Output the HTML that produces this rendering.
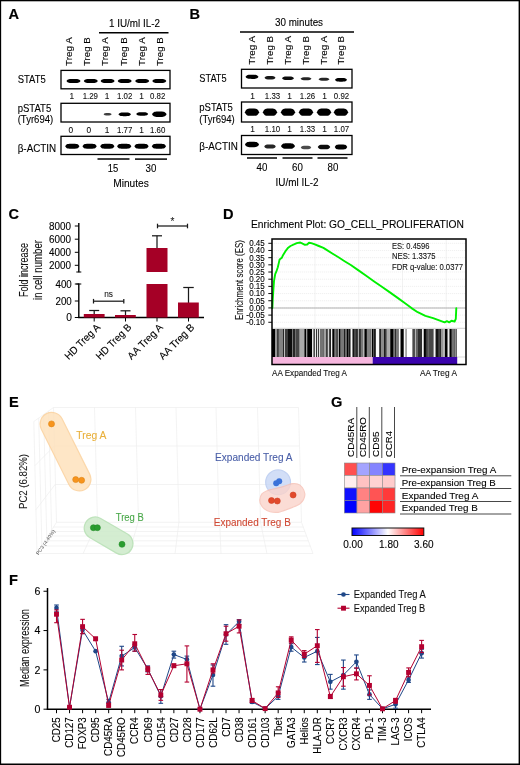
<!DOCTYPE html>
<html lang="en">
<head>
<meta charset="utf-8">
<title>Figure</title>
<style>
html,body{margin:0;padding:0;background:#fff;}
body{width:520px;height:765px;overflow:hidden;}
svg{display:block;font-family:"Liberation Sans", sans-serif;}
text{white-space:pre;}
</style>
</head>
<body>
<svg width="520" height="765" viewBox="0 0 520 765">
<rect x="0" y="0" width="520" height="765" fill="#fff"/>
<defs>
<filter id="b1" x="-30%" y="-80%" width="160%" height="260%"><feGaussianBlur stdDeviation="0.55"/></filter>
<filter id="b2" x="-30%" y="-80%" width="160%" height="260%"><feGaussianBlur stdDeviation="0.9"/></filter>
<filter id="soft" x="-20%" y="-20%" width="140%" height="140%"><feGaussianBlur stdDeviation="0.6"/></filter>
<filter id="blob" filterUnits="userSpaceOnUse" x="0" y="390" width="520" height="190"><feGaussianBlur stdDeviation="0.7"/></filter>
<linearGradient id="cb" x1="0" x2="1" y1="0" y2="0"><stop offset="0" stop-color="#0000ff"/><stop offset="0.5" stop-color="#ffffff"/><stop offset="1" stop-color="#ff0000"/></linearGradient>
</defs>
<text x="8.5" y="19.3" font-size="14.6" text-anchor="start" fill="#000" font-weight="bold" stroke="#000" stroke-width="0.15" >A</text>
<text x="189.5" y="19.3" font-size="14.6" text-anchor="start" fill="#000" font-weight="bold" stroke="#000" stroke-width="0.15" >B</text>
<text x="8.5" y="218.8" font-size="14.6" text-anchor="start" fill="#000" font-weight="bold" stroke="#000" stroke-width="0.15" >C</text>
<text x="223" y="218.8" font-size="14.6" text-anchor="start" fill="#000" font-weight="bold" stroke="#000" stroke-width="0.15" >D</text>
<text x="9" y="407.3" font-size="14.6" text-anchor="start" fill="#000" font-weight="bold" stroke="#000" stroke-width="0.15" >E</text>
<text x="331" y="407.3" font-size="14.6" text-anchor="start" fill="#000" font-weight="bold" stroke="#000" stroke-width="0.15" >G</text>
<text x="9" y="585.3" font-size="14.6" text-anchor="start" fill="#000" font-weight="bold" stroke="#000" stroke-width="0.15" >F</text>
<text x="134.5" y="27.4" font-size="10" text-anchor="middle" fill="#000" stroke="#000" stroke-width="0.1" textLength="51" lengthAdjust="spacingAndGlyphs" >1 IU/ml IL-2</text>
<line x1="99" y1="32.8" x2="168.5" y2="32.8" stroke="#000" stroke-width="1.5" />
<text font-size="9.7" text-anchor="start" fill="#000" stroke="#000" stroke-width="0.1" textLength="28.8" lengthAdjust="spacingAndGlyphs" transform="translate(72.19 66) rotate(-90)" >Treg A</text>
<text font-size="9.7" text-anchor="start" fill="#000" stroke="#000" stroke-width="0.1" textLength="28.8" lengthAdjust="spacingAndGlyphs" transform="translate(89.89 66) rotate(-90)" >Treg B</text>
<text font-size="9.7" text-anchor="start" fill="#000" stroke="#000" stroke-width="0.1" textLength="28.8" lengthAdjust="spacingAndGlyphs" transform="translate(108.29 66) rotate(-90)" >Treg A</text>
<text font-size="9.7" text-anchor="start" fill="#000" stroke="#000" stroke-width="0.1" textLength="28.8" lengthAdjust="spacingAndGlyphs" transform="translate(126.79 66) rotate(-90)" >Treg B</text>
<text font-size="9.7" text-anchor="start" fill="#000" stroke="#000" stroke-width="0.1" textLength="28.8" lengthAdjust="spacingAndGlyphs" transform="translate(145.19 66) rotate(-90)" >Treg A</text>
<text font-size="9.7" text-anchor="start" fill="#000" stroke="#000" stroke-width="0.1" textLength="28.8" lengthAdjust="spacingAndGlyphs" transform="translate(163.29 66) rotate(-90)" >Treg B</text>
<rect x="61" y="70.4" width="109" height="18.39999999999999" fill="#fff" stroke="#000" stroke-width="1.3" />
<rect x="61" y="103.3" width="109" height="18.700000000000003" fill="#fff" stroke="#000" stroke-width="1.3" />
<rect x="61" y="136.3" width="109" height="18.19999999999999" fill="#fff" stroke="#000" stroke-width="1.3" />
<path d="M66.50,81.00 C67.90,78.95 69.30,78.95 73.50,78.95 C77.70,78.95 79.10,78.95 80.50,81.00 C79.10,83.05 77.70,83.05 73.50,83.05 C69.30,83.05 67.90,83.05 66.50,81.00Z" fill="#000" opacity="1.0" filter="url(#b1)"/>
<path d="M83.80,81.00 C85.20,78.95 86.60,78.95 90.80,78.95 C95.00,78.95 96.40,78.95 97.80,81.00 C96.40,83.05 95.00,83.05 90.80,83.05 C86.60,83.05 85.20,83.05 83.80,81.00Z" fill="#000" opacity="1.0" filter="url(#b1)"/>
<path d="M100.60,81.00 C102.00,78.95 103.40,78.95 107.60,78.95 C111.80,78.95 113.20,78.95 114.60,81.00 C113.20,83.05 111.80,83.05 107.60,83.05 C103.40,83.05 102.00,83.05 100.60,81.00Z" fill="#000" opacity="1.0" filter="url(#b1)"/>
<path d="M117.70,81.00 C119.10,78.95 120.50,78.95 124.70,78.95 C128.90,78.95 130.30,78.95 131.70,81.00 C130.30,83.05 128.90,83.05 124.70,83.05 C120.50,83.05 119.10,83.05 117.70,81.00Z" fill="#000" opacity="1.0" filter="url(#b1)"/>
<path d="M135.20,81.00 C136.60,78.95 138.00,78.95 142.20,78.95 C146.40,78.95 147.80,78.95 149.20,81.00 C147.80,83.05 146.40,83.05 142.20,83.05 C138.00,83.05 136.60,83.05 135.20,81.00Z" fill="#000" opacity="1.0" filter="url(#b1)"/>
<path d="M152.30,81.00 C153.70,78.95 155.10,78.95 159.30,78.95 C163.50,78.95 164.90,78.95 166.30,81.00 C164.90,83.05 163.50,83.05 159.30,83.05 C155.10,83.05 153.70,83.05 152.30,81.00Z" fill="#000" opacity="1.0" filter="url(#b1)"/>
<path d="M103.60,114.30 C104.40,113.10 105.20,113.10 107.60,113.10 C110.00,113.10 110.80,113.10 111.60,114.30 C110.80,115.50 110.00,115.50 107.60,115.50 C105.20,115.50 104.40,115.50 103.60,114.30Z" fill="#000" opacity="0.75" filter="url(#b1)"/>
<path d="M118.45,114.30 C119.70,112.40 120.95,112.40 124.70,112.40 C128.45,112.40 129.70,112.40 130.95,114.30 C129.70,116.20 128.45,116.20 124.70,116.20 C120.95,116.20 119.70,116.20 118.45,114.30Z" fill="#000" opacity="1.0" filter="url(#b1)"/>
<path d="M136.20,114.00 C137.40,112.30 138.60,112.30 142.20,112.30 C145.80,112.30 147.00,112.30 148.20,114.00 C147.00,115.70 145.80,115.70 142.20,115.70 C138.60,115.70 137.40,115.70 136.20,114.00Z" fill="#000" opacity="1.0" filter="url(#b1)"/>
<path d="M152.05,114.20 C153.50,111.50 154.95,111.50 159.30,111.50 C163.65,111.50 165.10,111.50 166.55,114.20 C165.10,116.90 163.65,116.90 159.30,116.90 C154.95,116.90 153.50,116.90 152.05,114.20Z" fill="#000" opacity="1.0" filter="url(#b1)"/>
<path d="M65.15,146.30 C66.58,143.80 68.01,143.80 72.30,143.80 C76.59,143.80 78.02,143.80 79.45,146.30 C78.02,148.80 76.59,148.80 72.30,148.80 C68.01,148.80 66.58,148.80 65.15,146.30Z" fill="#000" opacity="1.0" filter="url(#b1)"/>
<path d="M82.45,146.30 C83.88,143.80 85.31,143.80 89.60,143.80 C93.89,143.80 95.32,143.80 96.75,146.30 C95.32,148.80 93.89,148.80 89.60,148.80 C85.31,148.80 83.88,148.80 82.45,146.30Z" fill="#000" opacity="1.0" filter="url(#b1)"/>
<path d="M100.15,146.30 C101.58,143.80 103.01,143.80 107.30,143.80 C111.59,143.80 113.02,143.80 114.45,146.30 C113.02,148.80 111.59,148.80 107.30,148.80 C103.01,148.80 101.58,148.80 100.15,146.30Z" fill="#000" opacity="1.0" filter="url(#b1)"/>
<path d="M117.05,146.30 C118.48,143.80 119.91,143.80 124.20,143.80 C128.49,143.80 129.92,143.80 131.35,146.30 C129.92,148.80 128.49,148.80 124.20,148.80 C119.91,148.80 118.48,148.80 117.05,146.30Z" fill="#000" opacity="1.0" filter="url(#b1)"/>
<path d="M134.35,146.30 C135.78,143.80 137.21,143.80 141.50,143.80 C145.79,143.80 147.22,143.80 148.65,146.30 C147.22,148.80 145.79,148.80 141.50,148.80 C137.21,148.80 135.78,148.80 134.35,146.30Z" fill="#000" opacity="1.0" filter="url(#b1)"/>
<path d="M151.75,146.30 C153.18,143.80 154.61,143.80 158.90,143.80 C163.19,143.80 164.62,143.80 166.05,146.30 C164.62,148.80 163.19,148.80 158.90,148.80 C154.61,148.80 153.18,148.80 151.75,146.30Z" fill="#000" opacity="1.0" filter="url(#b1)"/>
<text x="17.7" y="82.87" font-size="10.2" text-anchor="start" fill="#000" stroke="#000" stroke-width="0.1" textLength="28" lengthAdjust="spacingAndGlyphs" >STAT5</text>
<text x="17.7" y="111.67" font-size="10.2" text-anchor="start" fill="#000" stroke="#000" stroke-width="0.1" textLength="33.5" lengthAdjust="spacingAndGlyphs" >pSTAT5</text>
<text x="17.7" y="122.97" font-size="10.2" text-anchor="start" fill="#000" stroke="#000" stroke-width="0.1" textLength="35.5" lengthAdjust="spacingAndGlyphs" >(Tyr694)</text>
<text x="17.7" y="151.57" font-size="10.2" text-anchor="start" fill="#000" stroke="#000" stroke-width="0.1" textLength="38.5" lengthAdjust="spacingAndGlyphs" >β-ACTIN</text>
<text x="71.8" y="99.19" font-size="8.3" text-anchor="middle" fill="#111" stroke="#111" stroke-width="0.1" >1</text>
<text x="90.3" y="99.19" font-size="8.3" text-anchor="middle" fill="#111" stroke="#111" stroke-width="0.1" textLength="15.3" lengthAdjust="spacingAndGlyphs" >1.29</text>
<text x="107" y="99.19" font-size="8.3" text-anchor="middle" fill="#111" stroke="#111" stroke-width="0.1" >1</text>
<text x="124.7" y="99.19" font-size="8.3" text-anchor="middle" fill="#111" stroke="#111" stroke-width="0.1" textLength="15.3" lengthAdjust="spacingAndGlyphs" >1.02</text>
<text x="141.5" y="99.19" font-size="8.3" text-anchor="middle" fill="#111" stroke="#111" stroke-width="0.1" >1</text>
<text x="157.7" y="99.19" font-size="8.3" text-anchor="middle" fill="#111" stroke="#111" stroke-width="0.1" textLength="15.3" lengthAdjust="spacingAndGlyphs" >0.82</text>
<text x="70.8" y="132.99" font-size="8.3" text-anchor="middle" fill="#111" stroke="#111" stroke-width="0.1" >0</text>
<text x="88.8" y="132.99" font-size="8.3" text-anchor="middle" fill="#111" stroke="#111" stroke-width="0.1" >0</text>
<text x="107" y="132.99" font-size="8.3" text-anchor="middle" fill="#111" stroke="#111" stroke-width="0.1" >1</text>
<text x="124.7" y="132.99" font-size="8.3" text-anchor="middle" fill="#111" stroke="#111" stroke-width="0.1" textLength="15.3" lengthAdjust="spacingAndGlyphs" >1.77</text>
<text x="141.5" y="132.99" font-size="8.3" text-anchor="middle" fill="#111" stroke="#111" stroke-width="0.1" >1</text>
<text x="157.7" y="132.99" font-size="8.3" text-anchor="middle" fill="#111" stroke="#111" stroke-width="0.1" textLength="15.3" lengthAdjust="spacingAndGlyphs" >1.60</text>
<line x1="97.5" y1="159.1" x2="129.5" y2="159.1" stroke="#000" stroke-width="1.5" />
<line x1="135" y1="159.1" x2="167" y2="159.1" stroke="#000" stroke-width="1.5" />
<text x="113" y="171.87" font-size="10.2" text-anchor="middle" fill="#000" stroke="#000" stroke-width="0.1" textLength="10.5" lengthAdjust="spacingAndGlyphs" >15</text>
<text x="151" y="171.87" font-size="10.2" text-anchor="middle" fill="#000" stroke="#000" stroke-width="0.1" textLength="10.8" lengthAdjust="spacingAndGlyphs" >30</text>
<text x="131" y="186.6" font-size="10" text-anchor="middle" fill="#000" stroke="#000" stroke-width="0.1" textLength="35.5" lengthAdjust="spacingAndGlyphs" >Minutes</text>
<text x="299" y="26.1" font-size="10" text-anchor="middle" fill="#000" stroke="#000" stroke-width="0.1" textLength="48" lengthAdjust="spacingAndGlyphs" >30 minutes</text>
<line x1="240" y1="32" x2="354" y2="32" stroke="#000" stroke-width="1.5" />
<text font-size="9.7" text-anchor="start" fill="#000" stroke="#000" stroke-width="0.1" textLength="28.8" lengthAdjust="spacingAndGlyphs" transform="translate(255.29 64.7) rotate(-90)" >Treg A</text>
<text font-size="9.7" text-anchor="start" fill="#000" stroke="#000" stroke-width="0.1" textLength="28.8" lengthAdjust="spacingAndGlyphs" transform="translate(272.99 64.7) rotate(-90)" >Treg B</text>
<text font-size="9.7" text-anchor="start" fill="#000" stroke="#000" stroke-width="0.1" textLength="28.8" lengthAdjust="spacingAndGlyphs" transform="translate(291.49 64.7) rotate(-90)" >Treg A</text>
<text font-size="9.7" text-anchor="start" fill="#000" stroke="#000" stroke-width="0.1" textLength="28.8" lengthAdjust="spacingAndGlyphs" transform="translate(308.99 64.7) rotate(-90)" >Treg B</text>
<text font-size="9.7" text-anchor="start" fill="#000" stroke="#000" stroke-width="0.1" textLength="28.8" lengthAdjust="spacingAndGlyphs" transform="translate(326.99 64.7) rotate(-90)" >Treg A</text>
<text font-size="9.7" text-anchor="start" fill="#000" stroke="#000" stroke-width="0.1" textLength="28.8" lengthAdjust="spacingAndGlyphs" transform="translate(344.29 64.7) rotate(-90)" >Treg B</text>
<rect x="241.5" y="69.3" width="110.5" height="18.700000000000003" fill="#fff" stroke="#000" stroke-width="1.3" />
<rect x="241.5" y="102" width="110.5" height="20" fill="#fff" stroke="#000" stroke-width="1.3" />
<rect x="241.5" y="135.5" width="110.5" height="19.0" fill="#fff" stroke="#000" stroke-width="1.3" />
<path d="M245.50,76.80 C246.80,74.70 248.10,74.70 252.00,74.70 C255.90,74.70 257.20,74.70 258.50,76.80 C257.20,78.90 255.90,78.90 252.00,78.90 C248.10,78.90 246.80,78.90 245.50,76.80Z" fill="#000" opacity="1" filter="url(#b1)"/>
<path d="M264.50,77.80 C265.60,76.10 266.70,76.10 270.00,76.10 C273.30,76.10 274.40,76.10 275.50,77.80 C274.40,79.50 273.30,79.50 270.00,79.50 C266.70,79.50 265.60,79.50 264.50,77.80Z" fill="#000" opacity="0.9" filter="url(#b1)"/>
<path d="M282.00,78.30 C283.20,76.50 284.40,76.50 288.00,76.50 C291.60,76.50 292.80,76.50 294.00,78.30 C292.80,80.10 291.60,80.10 288.00,80.10 C284.40,80.10 283.20,80.10 282.00,78.30Z" fill="#000" opacity="0.95" filter="url(#b1)"/>
<path d="M300.50,78.80 C301.60,77.30 302.70,77.30 306.00,77.30 C309.30,77.30 310.40,77.30 311.50,78.80 C310.40,80.30 309.30,80.30 306.00,80.30 C302.70,80.30 301.60,80.30 300.50,78.80Z" fill="#000" opacity="0.85" filter="url(#b1)"/>
<path d="M318.50,79.30 C319.60,77.80 320.70,77.80 324.00,77.80 C327.30,77.80 328.40,77.80 329.50,79.30 C328.40,80.80 327.30,80.80 324.00,80.80 C320.70,80.80 319.60,80.80 318.50,79.30Z" fill="#000" opacity="0.85" filter="url(#b1)"/>
<path d="M335.00,79.80 C336.20,77.90 337.40,77.90 341.00,77.90 C344.60,77.90 345.80,77.90 347.00,79.80 C345.80,81.70 344.60,81.70 341.00,81.70 C337.40,81.70 336.20,81.70 335.00,79.80Z" fill="#000" opacity="1" filter="url(#b1)"/>
<path d="M244.90,112.20 C246.32,108.60 247.74,108.60 252.00,108.60 C256.26,108.60 257.68,108.60 259.10,112.20 C257.68,115.80 256.26,115.80 252.00,115.80 C247.74,115.80 246.32,115.80 244.90,112.20Z" fill="#000" opacity="1" filter="url(#b1)"/>
<path d="M262.90,112.20 C264.32,108.60 265.74,108.60 270.00,108.60 C274.26,108.60 275.68,108.60 277.10,112.20 C275.68,115.80 274.26,115.80 270.00,115.80 C265.74,115.80 264.32,115.80 262.90,112.20Z" fill="#000" opacity="1" filter="url(#b1)"/>
<path d="M280.90,112.20 C282.32,108.60 283.74,108.60 288.00,108.60 C292.26,108.60 293.68,108.60 295.10,112.20 C293.68,115.80 292.26,115.80 288.00,115.80 C283.74,115.80 282.32,115.80 280.90,112.20Z" fill="#000" opacity="1" filter="url(#b1)"/>
<path d="M298.90,112.20 C300.32,108.60 301.74,108.60 306.00,108.60 C310.26,108.60 311.68,108.60 313.10,112.20 C311.68,115.80 310.26,115.80 306.00,115.80 C301.74,115.80 300.32,115.80 298.90,112.20Z" fill="#000" opacity="1" filter="url(#b1)"/>
<path d="M316.90,112.20 C318.32,108.60 319.74,108.60 324.00,108.60 C328.26,108.60 329.68,108.60 331.10,112.20 C329.68,115.80 328.26,115.80 324.00,115.80 C319.74,115.80 318.32,115.80 316.90,112.20Z" fill="#000" opacity="1" filter="url(#b1)"/>
<path d="M333.90,112.20 C335.32,108.60 336.74,108.60 341.00,108.60 C345.26,108.60 346.68,108.60 348.10,112.20 C346.68,115.80 345.26,115.80 341.00,115.80 C336.74,115.80 335.32,115.80 333.90,112.20Z" fill="#000" opacity="1" filter="url(#b1)"/>
<path d="M245.00,144.50 C246.40,141.80 247.80,141.80 252.00,141.80 C256.20,141.80 257.60,141.80 259.00,144.50 C257.60,147.20 256.20,147.20 252.00,147.20 C247.80,147.20 246.40,147.20 245.00,144.50Z" fill="#000" opacity="1" filter="url(#b1)"/>
<path d="M264.25,146.50 C265.40,144.50 266.55,144.50 270.00,144.50 C273.45,144.50 274.60,144.50 275.75,146.50 C274.60,148.50 273.45,148.50 270.00,148.50 C266.55,148.50 265.40,148.50 264.25,146.50Z" fill="#000" opacity="0.85" filter="url(#b1)"/>
<path d="M281.00,146.00 C282.40,143.20 283.80,143.20 288.00,143.20 C292.20,143.20 293.60,143.20 295.00,146.00 C293.60,148.80 292.20,148.80 288.00,148.80 C283.80,148.80 282.40,148.80 281.00,146.00Z" fill="#000" opacity="1" filter="url(#b1)"/>
<path d="M300.75,147.50 C301.80,145.80 302.85,145.80 306.00,145.80 C309.15,145.80 310.20,145.80 311.25,147.50 C310.20,149.20 309.15,149.20 306.00,149.20 C302.85,149.20 301.80,149.20 300.75,147.50Z" fill="#000" opacity="0.7" filter="url(#b1)"/>
<path d="M317.75,147.00 C319.00,144.70 320.25,144.70 324.00,144.70 C327.75,144.70 329.00,144.70 330.25,147.00 C329.00,149.30 327.75,149.30 324.00,149.30 C320.25,149.30 319.00,149.30 317.75,147.00Z" fill="#000" opacity="0.95" filter="url(#b1)"/>
<path d="M334.75,147.00 C336.00,144.50 337.25,144.50 341.00,144.50 C344.75,144.50 346.00,144.50 347.25,147.00 C346.00,149.50 344.75,149.50 341.00,149.50 C337.25,149.50 336.00,149.50 334.75,147.00Z" fill="#000" opacity="1" filter="url(#b1)"/>
<text x="199.3" y="81.87" font-size="10.2" text-anchor="start" fill="#000" stroke="#000" stroke-width="0.1" textLength="27.3" lengthAdjust="spacingAndGlyphs" >STAT5</text>
<text x="199.3" y="110.87" font-size="10.2" text-anchor="start" fill="#000" stroke="#000" stroke-width="0.1" textLength="33.5" lengthAdjust="spacingAndGlyphs" >pSTAT5</text>
<text x="199.3" y="122.67" font-size="10.2" text-anchor="start" fill="#000" stroke="#000" stroke-width="0.1" textLength="35.5" lengthAdjust="spacingAndGlyphs" >(Tyr694)</text>
<text x="199.3" y="150.27" font-size="10.2" text-anchor="start" fill="#000" stroke="#000" stroke-width="0.1" textLength="38.5" lengthAdjust="spacingAndGlyphs" >β-ACTIN</text>
<text x="252.5" y="98.59" font-size="8.3" text-anchor="middle" fill="#111" stroke="#111" stroke-width="0.1" >1</text>
<text x="272.5" y="98.59" font-size="8.3" text-anchor="middle" fill="#111" stroke="#111" stroke-width="0.1" textLength="15.3" lengthAdjust="spacingAndGlyphs" >1.33</text>
<text x="289.5" y="98.59" font-size="8.3" text-anchor="middle" fill="#111" stroke="#111" stroke-width="0.1" >1</text>
<text x="307.5" y="98.59" font-size="8.3" text-anchor="middle" fill="#111" stroke="#111" stroke-width="0.1" textLength="15.3" lengthAdjust="spacingAndGlyphs" >1.26</text>
<text x="324.5" y="98.59" font-size="8.3" text-anchor="middle" fill="#111" stroke="#111" stroke-width="0.1" >1</text>
<text x="341.5" y="98.59" font-size="8.3" text-anchor="middle" fill="#111" stroke="#111" stroke-width="0.1" textLength="15.3" lengthAdjust="spacingAndGlyphs" >0.92</text>
<text x="252.5" y="132.49" font-size="8.3" text-anchor="middle" fill="#111" stroke="#111" stroke-width="0.1" >1</text>
<text x="272.5" y="132.49" font-size="8.3" text-anchor="middle" fill="#111" stroke="#111" stroke-width="0.1" textLength="15.3" lengthAdjust="spacingAndGlyphs" >1.10</text>
<text x="289.5" y="132.49" font-size="8.3" text-anchor="middle" fill="#111" stroke="#111" stroke-width="0.1" >1</text>
<text x="307.5" y="132.49" font-size="8.3" text-anchor="middle" fill="#111" stroke="#111" stroke-width="0.1" textLength="15.3" lengthAdjust="spacingAndGlyphs" >1.33</text>
<text x="324.5" y="132.49" font-size="8.3" text-anchor="middle" fill="#111" stroke="#111" stroke-width="0.1" >1</text>
<text x="341.5" y="132.49" font-size="8.3" text-anchor="middle" fill="#111" stroke="#111" stroke-width="0.1" textLength="15.3" lengthAdjust="spacingAndGlyphs" >1.07</text>
<line x1="247" y1="158" x2="277" y2="158" stroke="#000" stroke-width="1.5" />
<line x1="282.5" y1="158" x2="312.5" y2="158" stroke="#000" stroke-width="1.5" />
<line x1="317.5" y1="158" x2="347.5" y2="158" stroke="#000" stroke-width="1.5" />
<text x="262" y="171.17" font-size="10.2" text-anchor="middle" fill="#000" stroke="#000" stroke-width="0.1" textLength="10.8" lengthAdjust="spacingAndGlyphs" >40</text>
<text x="297.5" y="171.17" font-size="10.2" text-anchor="middle" fill="#000" stroke="#000" stroke-width="0.1" textLength="10.8" lengthAdjust="spacingAndGlyphs" >60</text>
<text x="333" y="171.17" font-size="10.2" text-anchor="middle" fill="#000" stroke="#000" stroke-width="0.1" textLength="10.8" lengthAdjust="spacingAndGlyphs" >80</text>
<text x="297" y="185.6" font-size="10" text-anchor="middle" fill="#000" stroke="#000" stroke-width="0.1" textLength="43" lengthAdjust="spacingAndGlyphs" >IU/ml IL-2</text>
<line x1="78.8" y1="223" x2="78.8" y2="272.3" stroke="#000" stroke-width="1.4" />
<line x1="74.8" y1="226" x2="78.8" y2="226" stroke="#000" stroke-width="1" />
<text x="71" y="229.97" font-size="10.2" text-anchor="end" fill="#000" stroke="#000" stroke-width="0.1" textLength="22" lengthAdjust="spacingAndGlyphs" >8000</text>
<line x1="74.8" y1="239.2" x2="78.8" y2="239.2" stroke="#000" stroke-width="1" />
<text x="71" y="243.17" font-size="10.2" text-anchor="end" fill="#000" stroke="#000" stroke-width="0.1" textLength="22" lengthAdjust="spacingAndGlyphs" >6000</text>
<line x1="74.8" y1="252.3" x2="78.8" y2="252.3" stroke="#000" stroke-width="1" />
<text x="71" y="256.27" font-size="10.2" text-anchor="end" fill="#000" stroke="#000" stroke-width="0.1" textLength="22" lengthAdjust="spacingAndGlyphs" >4000</text>
<line x1="74.8" y1="265.3" x2="78.8" y2="265.3" stroke="#000" stroke-width="1" />
<text x="71" y="269.27" font-size="10.2" text-anchor="end" fill="#000" stroke="#000" stroke-width="0.1" textLength="22" lengthAdjust="spacingAndGlyphs" >2000</text>
<line x1="76.3" y1="272" x2="81.3" y2="272" stroke="#000" stroke-width="1" />
<line x1="76.3" y1="284" x2="81.3" y2="284" stroke="#000" stroke-width="1" />
<line x1="78.8" y1="283.5" x2="78.8" y2="318" stroke="#000" stroke-width="1.4" />
<line x1="74.8" y1="284" x2="78.8" y2="284" stroke="#000" stroke-width="1" />
<text x="71.8" y="287.67" font-size="10.2" text-anchor="end" fill="#000" stroke="#000" stroke-width="0.1" textLength="16.3" lengthAdjust="spacingAndGlyphs" >400</text>
<line x1="74.8" y1="301" x2="78.8" y2="301" stroke="#000" stroke-width="1" />
<text x="71.8" y="304.67" font-size="10.2" text-anchor="end" fill="#000" stroke="#000" stroke-width="0.1" textLength="16.3" lengthAdjust="spacingAndGlyphs" >200</text>
<line x1="74.8" y1="317.5" x2="78.8" y2="317.5" stroke="#000" stroke-width="1" />
<text x="71.8" y="321.17" font-size="10.2" text-anchor="end" fill="#000" stroke="#000" stroke-width="0.1" >0</text>
<line x1="78.1" y1="317.5" x2="204" y2="317.5" stroke="#000" stroke-width="1.5" />
<line x1="94.2" y1="310.5" x2="94.2" y2="315" stroke="#1a1a1a" stroke-width="1.25" />
<line x1="89.2" y1="310.5" x2="99.2" y2="310.5" stroke="#1a1a1a" stroke-width="1.25" />
<line x1="125.5" y1="310.8" x2="125.5" y2="315.5" stroke="#1a1a1a" stroke-width="1.25" />
<line x1="120.5" y1="310.8" x2="130.5" y2="310.8" stroke="#1a1a1a" stroke-width="1.25" />
<line x1="157" y1="235.8" x2="157" y2="249" stroke="#1a1a1a" stroke-width="1.25" />
<line x1="152.0" y1="235.8" x2="162.0" y2="235.8" stroke="#1a1a1a" stroke-width="1.25" />
<line x1="188.5" y1="287.5" x2="188.5" y2="303" stroke="#1a1a1a" stroke-width="1.25" />
<line x1="183.25" y1="287.5" x2="193.75" y2="287.5" stroke="#1a1a1a" stroke-width="1.25" />
<rect x="83.8" y="314" width="20.8" height="3.5" fill="#a50026" />
<rect x="115" y="315" width="20.8" height="2.5" fill="#a50026" />
<rect x="146.5" y="284" width="21" height="33.5" fill="#a50026" />
<rect x="146.5" y="248" width="21" height="24" fill="#a50026" />
<rect x="178" y="302.5" width="20.8" height="15" fill="#a50026" />
<line x1="94.2" y1="318" x2="94.2" y2="321.5" stroke="#000" stroke-width="1" />
<line x1="125.5" y1="318" x2="125.5" y2="321.5" stroke="#000" stroke-width="1" />
<line x1="157" y1="318" x2="157" y2="321.5" stroke="#000" stroke-width="1" />
<line x1="188.5" y1="318" x2="188.5" y2="321.5" stroke="#000" stroke-width="1" />
<line x1="93.5" y1="301.2" x2="123.8" y2="301.2" stroke="#1a1a1a" stroke-width="1.25" />
<line x1="93.5" y1="298.9" x2="93.5" y2="303.5" stroke="#1a1a1a" stroke-width="1.25" />
<line x1="123.8" y1="298.9" x2="123.8" y2="303.5" stroke="#1a1a1a" stroke-width="1.25" />
<text x="108.65" y="297.0" font-size="8.8" text-anchor="middle" fill="#1a1a1a" stroke="#1a1a1a" stroke-width="0.1" textLength="8.74" lengthAdjust="spacingAndGlyphs" >ns</text>
<line x1="157.5" y1="226" x2="187.5" y2="226" stroke="#1a1a1a" stroke-width="1.25" />
<line x1="157.5" y1="223.7" x2="157.5" y2="228.3" stroke="#1a1a1a" stroke-width="1.25" />
<line x1="187.5" y1="223.7" x2="187.5" y2="228.3" stroke="#1a1a1a" stroke-width="1.25" />
<text x="172.5" y="225.4" font-size="10" text-anchor="middle" fill="#1a1a1a" stroke="#1a1a1a" stroke-width="0.1" >*</text>
<text font-size="10.3" text-anchor="end" fill="#000" stroke="#000" stroke-width="0.1" textLength="45.5" lengthAdjust="spacingAndGlyphs" transform="translate(100.8 328) rotate(-45)" >HD Treg A</text>
<text font-size="10.3" text-anchor="end" fill="#000" stroke="#000" stroke-width="0.1" textLength="45.5" lengthAdjust="spacingAndGlyphs" transform="translate(132.1 328) rotate(-45)" >HD Treg B</text>
<text font-size="10.3" text-anchor="end" fill="#000" stroke="#000" stroke-width="0.1" textLength="45.5" lengthAdjust="spacingAndGlyphs" transform="translate(163.6 328) rotate(-45)" >AA Treg A</text>
<text font-size="10.3" text-anchor="end" fill="#000" stroke="#000" stroke-width="0.1" textLength="45.5" lengthAdjust="spacingAndGlyphs" transform="translate(195.1 328) rotate(-45)" >AA Treg B</text>
<text font-size="12.5" text-anchor="middle" fill="#111" stroke="#111" stroke-width="0.1" textLength="54" lengthAdjust="spacingAndGlyphs" transform="translate(27.7 270) rotate(-90)" >Fold increase</text>
<text font-size="12.5" text-anchor="middle" fill="#111" stroke="#111" stroke-width="0.1" textLength="60" lengthAdjust="spacingAndGlyphs" transform="translate(42.3 270) rotate(-90)" >in cell number</text>
<text x="357.5" y="228.19" font-size="10.8" text-anchor="middle" fill="#000" stroke="#000" stroke-width="0.1" textLength="213" lengthAdjust="spacingAndGlyphs" >Enrichment Plot: GO_CELL_PROLIFERATION</text>
<line x1="315" y1="239" x2="315" y2="328" stroke="#e9e9e9" stroke-width="0.6" />
<line x1="358.75" y1="239" x2="358.75" y2="328" stroke="#e9e9e9" stroke-width="0.6" />
<line x1="402.5" y1="239" x2="402.5" y2="328" stroke="#e9e9e9" stroke-width="0.6" />
<line x1="446.25" y1="239" x2="446.25" y2="328" stroke="#e9e9e9" stroke-width="0.6" />
<line x1="272" y1="243.3" x2="466" y2="243.3" stroke="#e6e6e6" stroke-width="0.6" stroke-dasharray="1.2 0.8"/>
<line x1="272" y1="250.48000000000002" x2="466" y2="250.48000000000002" stroke="#e6e6e6" stroke-width="0.6" stroke-dasharray="1.2 0.8"/>
<line x1="272" y1="257.66" x2="466" y2="257.66" stroke="#e6e6e6" stroke-width="0.6" stroke-dasharray="1.2 0.8"/>
<line x1="272" y1="264.84000000000003" x2="466" y2="264.84000000000003" stroke="#e6e6e6" stroke-width="0.6" stroke-dasharray="1.2 0.8"/>
<line x1="272" y1="272.02" x2="466" y2="272.02" stroke="#e6e6e6" stroke-width="0.6" stroke-dasharray="1.2 0.8"/>
<line x1="272" y1="279.2" x2="466" y2="279.2" stroke="#e6e6e6" stroke-width="0.6" stroke-dasharray="1.2 0.8"/>
<line x1="272" y1="286.38" x2="466" y2="286.38" stroke="#e6e6e6" stroke-width="0.6" stroke-dasharray="1.2 0.8"/>
<line x1="272" y1="293.56" x2="466" y2="293.56" stroke="#e6e6e6" stroke-width="0.6" stroke-dasharray="1.2 0.8"/>
<line x1="272" y1="300.74" x2="466" y2="300.74" stroke="#e6e6e6" stroke-width="0.6" stroke-dasharray="1.2 0.8"/>
<line x1="272" y1="307.92" x2="466" y2="307.92" stroke="#e6e6e6" stroke-width="0.6" stroke-dasharray="1.2 0.8"/>
<line x1="272" y1="315.1" x2="466" y2="315.1" stroke="#e6e6e6" stroke-width="0.6" stroke-dasharray="1.2 0.8"/>
<line x1="272" y1="322.28" x2="466" y2="322.28" stroke="#e6e6e6" stroke-width="0.6" stroke-dasharray="1.2 0.8"/>
<line x1="272" y1="308" x2="466" y2="308" stroke="#b0b0b0" stroke-width="1" />
<line x1="268.3" y1="243.3" x2="272" y2="243.3" stroke="#111" stroke-width="1" />
<text x="264.8" y="246.14" font-size="9" text-anchor="end" fill="#000" stroke="#000" stroke-width="0.1" textLength="15.6" lengthAdjust="spacingAndGlyphs" >0.45</text>
<line x1="268.3" y1="250.48000000000002" x2="272" y2="250.48000000000002" stroke="#111" stroke-width="1" />
<text x="264.8" y="253.32" font-size="9" text-anchor="end" fill="#000" stroke="#000" stroke-width="0.1" textLength="15.6" lengthAdjust="spacingAndGlyphs" >0.40</text>
<line x1="268.3" y1="257.66" x2="272" y2="257.66" stroke="#111" stroke-width="1" />
<text x="264.8" y="260.5" font-size="9" text-anchor="end" fill="#000" stroke="#000" stroke-width="0.1" textLength="15.6" lengthAdjust="spacingAndGlyphs" >0.35</text>
<line x1="268.3" y1="264.84000000000003" x2="272" y2="264.84000000000003" stroke="#111" stroke-width="1" />
<text x="264.8" y="267.68" font-size="9" text-anchor="end" fill="#000" stroke="#000" stroke-width="0.1" textLength="15.6" lengthAdjust="spacingAndGlyphs" >0.30</text>
<line x1="268.3" y1="272.02" x2="272" y2="272.02" stroke="#111" stroke-width="1" />
<text x="264.8" y="274.86" font-size="9" text-anchor="end" fill="#000" stroke="#000" stroke-width="0.1" textLength="15.6" lengthAdjust="spacingAndGlyphs" >0.25</text>
<line x1="268.3" y1="279.2" x2="272" y2="279.2" stroke="#111" stroke-width="1" />
<text x="264.8" y="282.04" font-size="9" text-anchor="end" fill="#000" stroke="#000" stroke-width="0.1" textLength="15.6" lengthAdjust="spacingAndGlyphs" >0.20</text>
<line x1="268.3" y1="286.38" x2="272" y2="286.38" stroke="#111" stroke-width="1" />
<text x="264.8" y="289.22" font-size="9" text-anchor="end" fill="#000" stroke="#000" stroke-width="0.1" textLength="15.6" lengthAdjust="spacingAndGlyphs" >0.15</text>
<line x1="268.3" y1="293.56" x2="272" y2="293.56" stroke="#111" stroke-width="1" />
<text x="264.8" y="296.4" font-size="9" text-anchor="end" fill="#000" stroke="#000" stroke-width="0.1" textLength="15.6" lengthAdjust="spacingAndGlyphs" >0.10</text>
<line x1="268.3" y1="300.74" x2="272" y2="300.74" stroke="#111" stroke-width="1" />
<text x="264.8" y="303.58" font-size="9" text-anchor="end" fill="#000" stroke="#000" stroke-width="0.1" textLength="15.6" lengthAdjust="spacingAndGlyphs" >0.05</text>
<line x1="268.3" y1="307.92" x2="272" y2="307.92" stroke="#111" stroke-width="1" />
<text x="264.8" y="310.76" font-size="9" text-anchor="end" fill="#000" stroke="#000" stroke-width="0.1" textLength="15.6" lengthAdjust="spacingAndGlyphs" >0.00</text>
<line x1="268.3" y1="315.1" x2="272" y2="315.1" stroke="#111" stroke-width="1" />
<text x="264.8" y="317.94" font-size="9" text-anchor="end" fill="#000" stroke="#000" stroke-width="0.1" textLength="18.5" lengthAdjust="spacingAndGlyphs" >-0.05</text>
<line x1="268.3" y1="322.28" x2="272" y2="322.28" stroke="#111" stroke-width="1" />
<text x="264.8" y="325.12" font-size="9" text-anchor="end" fill="#000" stroke="#000" stroke-width="0.1" textLength="18.5" lengthAdjust="spacingAndGlyphs" >-0.10</text>
<text font-size="10.5" text-anchor="middle" fill="#111" stroke="#111" stroke-width="0.1" textLength="80" lengthAdjust="spacingAndGlyphs" transform="translate(243.28 280) rotate(-90)" >Enrichment score (ES)</text>
<rect x="272" y="328.5" width="185" height="28.5" fill="#000" />
<g filter="url(#soft)">
<rect x="275.0" y="328.5" width="2.0" height="28.5" fill="rgb(150,150,150)" />
<rect x="277.0" y="328.5" width="1.5" height="28.5" fill="rgb(60,60,60)" />
<rect x="278.5" y="328.5" width="4.5" height="28.5" fill="rgb(130,130,130)" />
<rect x="283.0" y="328.5" width="1.0" height="28.5" fill="rgb(40,40,40)" />
<rect x="284.0" y="328.5" width="1.0" height="28.5" fill="rgb(190,190,190)" />
<rect x="285.0" y="328.5" width="3.0" height="28.5" fill="rgb(60,60,60)" />
<rect x="288.0" y="328.5" width="4.0" height="28.5" fill="rgb(8,8,8)" />
<rect x="292.0" y="328.5" width="1.0" height="28.5" fill="rgb(120,120,120)" />
<rect x="293.0" y="328.5" width="2.0" height="28.5" fill="rgb(40,40,40)" />
<rect x="295.0" y="328.5" width="1.0" height="28.5" fill="rgb(110,110,110)" />
<rect x="296.0" y="328.5" width="3.0" height="28.5" fill="rgb(70,70,70)" />
<rect x="299.0" y="328.5" width="1.0" height="28.5" fill="rgb(140,140,140)" />
<rect x="300.0" y="328.5" width="4.5" height="28.5" fill="rgb(170,170,170)" />
<rect x="306.25" y="328.5" width="1.0" height="28.5" fill="rgb(200,200,200)" />
<rect x="312.0" y="328.5" width="1.75" height="28.5" fill="rgb(230,230,230)" />
<rect x="313.75" y="328.5" width="1.0" height="28.5" fill="rgb(30,30,30)" />
<rect x="314.75" y="328.5" width="1.25" height="28.5" fill="rgb(235,235,235)" />
<rect x="316.0" y="328.5" width="1.0" height="28.5" fill="rgb(50,50,50)" />
<rect x="317.0" y="328.5" width="1.0" height="28.5" fill="rgb(220,220,220)" />
<rect x="318.0" y="328.5" width="1.0" height="28.5" fill="rgb(60,60,60)" />
<rect x="319.0" y="328.5" width="1.0" height="28.5" fill="rgb(220,220,220)" />
<rect x="320.0" y="328.5" width="3.75" height="28.5" fill="rgb(115,115,115)" />
<rect x="323.75" y="328.5" width="2.5" height="28.5" fill="rgb(160,160,160)" />
<rect x="326.25" y="328.5" width="1.5" height="28.5" fill="rgb(70,70,70)" />
<rect x="327.75" y="328.5" width="1.75" height="28.5" fill="rgb(210,210,210)" />
<rect x="329.5" y="328.5" width="1.5" height="28.5" fill="rgb(40,40,40)" />
<rect x="331.0" y="328.5" width="1.5" height="28.5" fill="rgb(245,245,245)" />
<rect x="332.5" y="328.5" width="0.5" height="28.5" fill="rgb(30,30,30)" />
<rect x="334.25" y="328.5" width="2.5" height="28.5" fill="rgb(120,120,120)" />
<rect x="336.75" y="328.5" width="1.0" height="28.5" fill="rgb(60,60,60)" />
<rect x="337.75" y="328.5" width="1.25" height="28.5" fill="rgb(170,170,170)" />
<rect x="340.25" y="328.5" width="4.0" height="28.5" fill="rgb(120,120,120)" />
<rect x="344.25" y="328.5" width="1.25" height="28.5" fill="rgb(30,30,30)" />
<rect x="345.5" y="328.5" width="1.0" height="28.5" fill="rgb(200,200,200)" />
<rect x="348.25" y="328.5" width="1.0" height="28.5" fill="rgb(100,100,100)" />
<rect x="349.25" y="328.5" width="1.25" height="28.5" fill="rgb(30,30,30)" />
<rect x="350.5" y="328.5" width="2.0" height="28.5" fill="rgb(250,250,250)" />
<rect x="353.75" y="328.5" width="3.0" height="28.5" fill="rgb(70,70,70)" />
<rect x="356.75" y="328.5" width="1.0" height="28.5" fill="rgb(30,30,30)" />
<rect x="357.75" y="328.5" width="1.5" height="28.5" fill="rgb(170,170,170)" />
<rect x="359.25" y="328.5" width="1.5" height="28.5" fill="rgb(50,50,50)" />
<rect x="360.75" y="328.5" width="1.75" height="28.5" fill="rgb(120,120,120)" />
<rect x="362.5" y="328.5" width="2.0" height="28.5" fill="rgb(180,180,180)" />
<rect x="366.75" y="328.5" width="3.75" height="28.5" fill="rgb(130,130,130)" />
<rect x="370.5" y="328.5" width="1.5" height="28.5" fill="rgb(170,170,170)" />
<rect x="373.25" y="328.5" width="1.0" height="28.5" fill="rgb(110,110,110)" />
<rect x="375.75" y="328.5" width="3.75" height="28.5" fill="rgb(250,250,250)" />
<rect x="379.5" y="328.5" width="1.5" height="28.5" fill="rgb(40,40,40)" />
<rect x="381.0" y="328.5" width="3.0" height="28.5" fill="rgb(140,140,140)" />
<rect x="384.0" y="328.5" width="1.5" height="28.5" fill="rgb(30,30,30)" />
<rect x="385.5" y="328.5" width="1.5" height="28.5" fill="rgb(110,110,110)" />
<rect x="387.0" y="328.5" width="2.25" height="28.5" fill="rgb(170,170,170)" />
<rect x="389.25" y="328.5" width="1.0" height="28.5" fill="rgb(220,220,220)" />
<rect x="393.25" y="328.5" width="2.25" height="28.5" fill="rgb(120,120,120)" />
<rect x="395.5" y="328.5" width="0.5" height="28.5" fill="rgb(30,30,30)" />
<rect x="396.0" y="328.5" width="2.75" height="28.5" fill="rgb(120,120,120)" />
<rect x="398.75" y="328.5" width="1.75" height="28.5" fill="rgb(250,250,250)" />
<rect x="403.0" y="328.5" width="1.0" height="28.5" fill="rgb(70,70,70)" />
<rect x="404.0" y="328.5" width="1.75" height="28.5" fill="rgb(250,250,250)" />
<rect x="405.75" y="328.5" width="0.75" height="28.5" fill="rgb(150,150,150)" />
<rect x="406.5" y="328.5" width="5.5" height="28.5" fill="rgb(255,255,255)" />
<rect x="412.0" y="328.5" width="1.5" height="28.5" fill="rgb(140,140,140)" />
<rect x="413.5" y="328.5" width="1.5" height="28.5" fill="rgb(80,80,80)" />
<rect x="415.0" y="328.5" width="1.0" height="28.5" fill="rgb(180,180,180)" />
<rect x="416.0" y="328.5" width="2.0" height="28.5" fill="rgb(100,100,100)" />
<rect x="418.0" y="328.5" width="4.0" height="28.5" fill="rgb(45,45,45)" />
<rect x="422.0" y="328.5" width="1.75" height="28.5" fill="rgb(240,240,240)" />
<rect x="425.75" y="328.5" width="1.5" height="28.5" fill="rgb(60,60,60)" />
<rect x="427.25" y="328.5" width="2.5" height="28.5" fill="rgb(100,100,100)" />
<rect x="429.75" y="328.5" width="3.75" height="28.5" fill="rgb(70,70,70)" />
<rect x="433.5" y="328.5" width="2.25" height="28.5" fill="rgb(245,245,245)" />
<rect x="435.75" y="328.5" width="2.75" height="28.5" fill="rgb(25,25,25)" />
<rect x="438.5" y="328.5" width="1.25" height="28.5" fill="rgb(100,100,100)" />
<rect x="439.75" y="328.5" width="1.25" height="28.5" fill="rgb(40,40,40)" />
<rect x="441.0" y="328.5" width="2.25" height="28.5" fill="rgb(150,150,150)" />
<rect x="443.25" y="328.5" width="1.5" height="28.5" fill="rgb(230,230,230)" />
<rect x="447.5" y="328.5" width="2.0" height="28.5" fill="rgb(235,235,235)" />
<rect x="451.5" y="328.5" width="3.0" height="28.5" fill="rgb(115,115,115)" />
<rect x="454.5" y="328.5" width="2.25" height="28.5" fill="rgb(140,140,140)" />
</g>
<rect x="457" y="328" width="9" height="37" fill="#fff" />
<rect x="272" y="328" width="194" height="1" fill="#fff" />
<line x1="272" y1="328.3" x2="466" y2="328.3" stroke="#bbb" stroke-width="0.7" />
<line x1="457" y1="357" x2="466" y2="357" stroke="#ccc" stroke-width="0.7" />
<rect x="272" y="357" width="100.7" height="7.3" fill="#f6b6de" />
<rect x="372.7" y="357" width="84.5" height="7.3" fill="#3a02ac" />
<polyline fill="none" stroke="#00f000" stroke-width="1.9" stroke-linejoin="round" stroke-linecap="round" points="272.4,308 272.7,300 273.1,294 273.5,288 274,281.2 275.2,274.2 276.3,271.7 277.8,267.3 279,262.1 279.6,259.5 281.8,257.8 283,255.2 285.9,250.6 288.2,247.7 290.5,246 294.5,244.2 296.8,243.1 300.3,242.5 302.6,243.7 304.9,244.8 307.2,244.5 309,242.8 311.3,243.1 314.2,244.2 318.8,246 323.4,247.9 326.2,249.6 332.3,253.5 338.5,257.3 344.6,261.2 350.8,265 358.5,270.4 366.2,275.8 373.8,281.2 381.5,286.5 389.2,291.9 397.3,297.6 405.4,303.5 411.5,308.1 417.7,312.2 425.4,315.8 433.1,318.1 439.2,320.4 444.6,322.4 446.9,321.2 449.2,322.4 451.5,320.8 454.6,321.5 455.8,318.8 456.3,308.1"/>
<rect x="272" y="239" width="194" height="125.5" fill="none" stroke="#000" stroke-width="1.5" />
<text x="392" y="249.13" font-size="8.7" text-anchor="start" fill="#111" stroke="#111" stroke-width="0.1" textLength="37.5" lengthAdjust="spacingAndGlyphs" >ES: 0.4596</text>
<text x="392" y="259.13" font-size="8.7" text-anchor="start" fill="#111" stroke="#111" stroke-width="0.1" textLength="43.5" lengthAdjust="spacingAndGlyphs" >NES: 1.3375</text>
<text x="392" y="269.73" font-size="8.7" text-anchor="start" fill="#111" stroke="#111" stroke-width="0.1" textLength="71" lengthAdjust="spacingAndGlyphs" >FDR q-value: 0.0377</text>
<text x="272" y="375.84" font-size="9" text-anchor="start" fill="#111" stroke="#111" stroke-width="0.1" textLength="75" lengthAdjust="spacingAndGlyphs" >AA Expanded Treg A</text>
<text x="457" y="375.84" font-size="9" text-anchor="end" fill="#111" stroke="#111" stroke-width="0.1" textLength="37" lengthAdjust="spacingAndGlyphs" >AA Treg A</text>
<g fill="none" stroke="#eeeeee" stroke-width="0.7">
<path d="M53.5,407.5L56.5,522.3"/>
<path d="M94.5,407.5L97.5,522.3"/>
<path d="M135.5,407.5L138.5,522.3"/>
<path d="M176.0,407.5L179.0,522.3"/>
<path d="M216.0,407.5L219.0,522.3"/>
<path d="M257.5,407.5L260.5,522.3"/>
<path d="M298.5,407.5L301.5,522.3"/>
<path d="M53.5,407.5L298.5,407.5"/>
<path d="M54.5,446.0L299.5,446.0"/>
<path d="M55.5,484.5L300.5,484.5"/>
<path d="M56.5,522.3L301.5,522.3"/>
<path d="M53.5,407.5L33.8,421.5"/>
<path d="M33.8,421.5L37.0,554.0"/>
<path d="M54.5,445.8L34.9,465.7"/>
<path d="M55.5,484.0L35.9,509.8"/>
<path d="M48.6,411.0L51.6,530.2"/>
<path d="M43.6,414.5L46.8,538.1"/>
<path d="M38.7,418.0L41.9,546.1"/>
<path d="M56.5,522.3L37.0,554.0"/>
<path d="M301.5,522.3L313.0,553.5"/>
<path d="M53.6,527.0L303.2,527.0"/>
<path d="M50.7,531.5L304.9,531.5"/>
<path d="M47.9,536.0L306.5,536.0"/>
<path d="M44.9,540.8L308.3,540.8"/>
<path d="M41.7,546.0L310.2,546.0"/>
<path d="M37.0,553.5L313.0,553.5"/>
<path d="M97.3,522.3L83.0,553.8"/>
<path d="M138.1,522.3L129.0,553.8"/>
<path d="M178.9,522.3L175.0,553.8"/>
<path d="M219.7,522.3L221.0,553.8"/>
<path d="M260.5,522.3L267.0,553.8"/>
</g>
<g opacity="0.85" filter="url(#blob)">
<line x1="51.7" y1="424" x2="79.3" y2="479.3" stroke="#fbd19c" stroke-width="24.4" stroke-linecap="round"/>
<line x1="51.7" y1="424" x2="79.3" y2="479.3" stroke="#fee2bd" stroke-width="22.0" stroke-linecap="round"/>
</g>
<circle cx="51.5" cy="423.9" r="3.0" fill="#f7941d" stroke="#de8514" stroke-width="0.6"/>
<circle cx="75.7" cy="479.6" r="3.0" fill="#f7941d" stroke="#de8514" stroke-width="0.6"/>
<circle cx="81.6" cy="480.3" r="3.0" fill="#f7941d" stroke="#de8514" stroke-width="0.6"/>
<g opacity="0.85" filter="url(#blob)">
<line x1="95.2" y1="528" x2="122" y2="543.6" stroke="#b4dfb1" stroke-width="23.2" stroke-linecap="round"/>
<line x1="95.2" y1="528" x2="122" y2="543.6" stroke="#cdeaca" stroke-width="20.8" stroke-linecap="round"/>
</g>
<circle cx="93.4" cy="527.7" r="3.0" fill="#2a9d2f" stroke="#258c2a" stroke-width="0.6"/>
<circle cx="97.4" cy="527.7" r="3.0" fill="#2a9d2f" stroke="#258c2a" stroke-width="0.6"/>
<circle cx="122" cy="544.3" r="3.0" fill="#2a9d2f" stroke="#258c2a" stroke-width="0.6"/>
<g opacity="0.78" filter="url(#blob)">
<circle cx="278.1" cy="482.3" r="12.4" fill="#c6d6f5" stroke="#b2c6ef" stroke-width="1.2"/>
</g>
<g opacity="0.78" filter="url(#blob)">
<path d="M259.85,499.61 C260.04,497.88 260.81,495.29 261.92,493.85 C263.04,492.40 264.81,491.73 266.54,490.96 C268.27,490.19 269.42,490.00 272.31,489.23 C275.19,488.46 280.58,487.27 283.85,486.35 C287.11,485.42 289.61,484.08 291.92,483.69 C294.23,483.31 295.96,483.40 297.69,484.04 C299.42,484.67 301.11,485.86 302.31,487.50 C303.50,489.13 304.65,491.83 304.84,493.85 C305.04,495.86 304.27,497.98 303.46,499.61 C302.65,501.25 301.73,502.40 300.00,503.65 C298.27,504.90 295.77,505.96 293.08,507.11 C290.38,508.27 286.34,509.71 283.85,510.58 C281.35,511.44 280.38,512.11 278.08,512.31 C275.77,512.50 272.31,512.31 270.00,511.73 C267.69,511.15 265.77,510.09 264.23,508.84 C262.69,507.59 261.50,505.77 260.77,504.23 C260.04,502.69 259.65,501.34 259.85,499.61Z" fill="#fbd3ca" stroke="#f6bfb3" stroke-width="1.2"/>
</g>
<circle cx="276.2" cy="483.2" r="3.0" fill="#3b72d9"/>
<circle cx="279.2" cy="481.3" r="3.0" fill="#3b72d9"/>
<circle cx="271.5" cy="500.5" r="3.0" fill="#e2492b" stroke="#cf4024" stroke-width="0.6"/>
<circle cx="277.3" cy="501" r="3.0" fill="#e2492b" stroke="#cf4024" stroke-width="0.6"/>
<circle cx="293.1" cy="495" r="3.0" fill="#e2492b" stroke="#cf4024" stroke-width="0.6"/>
<text x="76.3" y="438.67" font-size="10.2" text-anchor="start" fill="#e9b03c" stroke="#e9b03c" stroke-width="0.1" textLength="30" lengthAdjust="spacingAndGlyphs" >Treg A</text>
<text x="115.8" y="521.37" font-size="10.2" text-anchor="start" fill="#4aa84a" stroke="#4aa84a" stroke-width="0.1" textLength="28" lengthAdjust="spacingAndGlyphs" >Treg B</text>
<text x="215" y="460.67" font-size="10.2" text-anchor="start" fill="#4a5fa8" stroke="#4a5fa8" stroke-width="0.1" textLength="77.5" lengthAdjust="spacingAndGlyphs" >Expanded Treg A</text>
<text x="213.8" y="525.67" font-size="10.2" text-anchor="start" fill="#d04a35" stroke="#d04a35" stroke-width="0.1" textLength="77" lengthAdjust="spacingAndGlyphs" >Expanded Treg B</text>
<text font-size="10" text-anchor="middle" fill="#222" stroke="#222" stroke-width="0.1" textLength="55" lengthAdjust="spacingAndGlyphs" transform="translate(27.4 481.5) rotate(-90)" >PC2 (6.82%)</text>
<text font-size="5" text-anchor="start" fill="#4a4a4a" textLength="29.5" lengthAdjust="spacingAndGlyphs" transform="translate(38.6 555.3) rotate(-55)" >PC3 (4.40%)</text>
<line x1="356.8" y1="407" x2="356.8" y2="458" stroke="#333" stroke-width="0.9" />
<line x1="369.3" y1="407" x2="369.3" y2="458" stroke="#333" stroke-width="0.9" />
<line x1="381.8" y1="407" x2="381.8" y2="458" stroke="#333" stroke-width="0.9" />
<line x1="394.5" y1="407" x2="394.5" y2="458" stroke="#333" stroke-width="0.9" />
<text font-size="9.8" text-anchor="start" fill="#000" stroke="#000" stroke-width="0.1" textLength="39" lengthAdjust="spacingAndGlyphs" transform="translate(353.53 457) rotate(-90)" >CD45RA</text>
<text font-size="9.8" text-anchor="start" fill="#000" stroke="#000" stroke-width="0.1" textLength="40" lengthAdjust="spacingAndGlyphs" transform="translate(366.03 457) rotate(-90)" >CD45RO</text>
<text font-size="9.8" text-anchor="start" fill="#000" stroke="#000" stroke-width="0.1" textLength="25.5" lengthAdjust="spacingAndGlyphs" transform="translate(378.53 457) rotate(-90)" >CD95</text>
<text font-size="9.8" text-anchor="start" fill="#000" stroke="#000" stroke-width="0.1" textLength="26" lengthAdjust="spacingAndGlyphs" transform="translate(391.53 457) rotate(-90)" >CCR4</text>
<rect x="344.3" y="463.0" width="12.68" height="12.5" fill="#ff5050" stroke="#8a8a8a" stroke-width="0.6" />
<rect x="356.98" y="463.0" width="12.68" height="12.5" fill="#a4a4ff" stroke="#8a8a8a" stroke-width="0.6" />
<rect x="369.66" y="463.0" width="12.68" height="12.5" fill="#8484ff" stroke="#8a8a8a" stroke-width="0.6" />
<rect x="382.34" y="463.0" width="12.68" height="12.5" fill="#3434ff" stroke="#8a8a8a" stroke-width="0.6" />
<rect x="344.3" y="475.5" width="12.68" height="12.5" fill="#ffeeee" stroke="#8a8a8a" stroke-width="0.6" />
<rect x="356.98" y="475.5" width="12.68" height="12.5" fill="#ffc2c2" stroke="#8a8a8a" stroke-width="0.6" />
<rect x="369.66" y="475.5" width="12.68" height="12.5" fill="#ffd2d2" stroke="#8a8a8a" stroke-width="0.6" />
<rect x="382.34" y="475.5" width="12.68" height="12.5" fill="#ffcccc" stroke="#8a8a8a" stroke-width="0.6" />
<rect x="344.3" y="488.0" width="12.68" height="12.5" fill="#1010ff" stroke="#8a8a8a" stroke-width="0.6" />
<rect x="356.98" y="488.0" width="12.68" height="12.5" fill="#ff8282" stroke="#8a8a8a" stroke-width="0.6" />
<rect x="369.66" y="488.0" width="12.68" height="12.5" fill="#ff5454" stroke="#8a8a8a" stroke-width="0.6" />
<rect x="382.34" y="488.0" width="12.68" height="12.5" fill="#ff3a3a" stroke="#8a8a8a" stroke-width="0.6" />
<rect x="344.3" y="500.5" width="12.68" height="12.5" fill="#0000ff" stroke="#8a8a8a" stroke-width="0.6" />
<rect x="356.98" y="500.5" width="12.68" height="12.5" fill="#ffa2a2" stroke="#8a8a8a" stroke-width="0.6" />
<rect x="369.66" y="500.5" width="12.68" height="12.5" fill="#ff0404" stroke="#8a8a8a" stroke-width="0.6" />
<rect x="382.34" y="500.5" width="12.68" height="12.5" fill="#ff2424" stroke="#8a8a8a" stroke-width="0.6" />
<text x="401.8" y="473.06" font-size="9.9" text-anchor="start" fill="#000" stroke="#000" stroke-width="0.1" textLength="94.5" lengthAdjust="spacingAndGlyphs" >Pre-expansion Treg A</text>
<line x1="400" y1="475.8" x2="511.3" y2="475.8" stroke="#333" stroke-width="0.9" />
<text x="401.8" y="485.76" font-size="9.9" text-anchor="start" fill="#000" stroke="#000" stroke-width="0.1" textLength="94" lengthAdjust="spacingAndGlyphs" >Pre-expansion Treg B</text>
<line x1="400" y1="488.5" x2="511.3" y2="488.5" stroke="#333" stroke-width="0.9" />
<text x="401.8" y="498.56" font-size="9.9" text-anchor="start" fill="#000" stroke="#000" stroke-width="0.1" textLength="76.5" lengthAdjust="spacingAndGlyphs" >Expanded Treg A</text>
<line x1="400" y1="501.5" x2="511.3" y2="501.5" stroke="#333" stroke-width="0.9" />
<text x="401.8" y="511.16" font-size="9.9" text-anchor="start" fill="#000" stroke="#000" stroke-width="0.1" textLength="76" lengthAdjust="spacingAndGlyphs" >Expanded Treg B</text>
<line x1="400" y1="514" x2="511.3" y2="514" stroke="#333" stroke-width="0.9" />
<rect x="352" y="528" width="71.8" height="7.5" fill="url(#cb)" stroke="#111" stroke-width="1" />
<text x="353" y="547.9" font-size="10" text-anchor="middle" fill="#000" stroke="#000" stroke-width="0.1" textLength="19.5" lengthAdjust="spacingAndGlyphs" >0.00</text>
<text x="388.8" y="547.9" font-size="10" text-anchor="middle" fill="#000" stroke="#000" stroke-width="0.1" textLength="19.5" lengthAdjust="spacingAndGlyphs" >1.80</text>
<text x="423.8" y="547.9" font-size="10" text-anchor="middle" fill="#000" stroke="#000" stroke-width="0.1" textLength="19.5" lengthAdjust="spacingAndGlyphs" >3.60</text>
<line x1="47.5" y1="588" x2="47.5" y2="709.9000000000001" stroke="#000" stroke-width="1.5" />
<line x1="46.8" y1="709.2" x2="431" y2="709.2" stroke="#000" stroke-width="1.5" />
<line x1="43.5" y1="709.2" x2="47.5" y2="709.2" stroke="#000" stroke-width="1" />
<text x="40.5" y="713.02" font-size="10.6" text-anchor="end" fill="#000" stroke="#000" stroke-width="0.1" >0</text>
<line x1="43.5" y1="669.88" x2="47.5" y2="669.88" stroke="#000" stroke-width="1" />
<text x="40.5" y="673.7" font-size="10.6" text-anchor="end" fill="#000" stroke="#000" stroke-width="0.1" >2</text>
<line x1="43.5" y1="630.5600000000001" x2="47.5" y2="630.5600000000001" stroke="#000" stroke-width="1" />
<text x="40.5" y="634.38" font-size="10.6" text-anchor="end" fill="#000" stroke="#000" stroke-width="0.1" >4</text>
<line x1="43.5" y1="591.24" x2="47.5" y2="591.24" stroke="#000" stroke-width="1" />
<text x="40.5" y="595.06" font-size="10.6" text-anchor="end" fill="#000" stroke="#000" stroke-width="0.1" >6</text>
<line x1="56.5" y1="709.2" x2="56.5" y2="713.2" stroke="#000" stroke-width="1" />
<text font-size="10.4" text-anchor="end" fill="#000" stroke="#000" stroke-width="0.1" textLength="24.99" lengthAdjust="spacingAndGlyphs" transform="translate(60.24 717.3) rotate(-90)" >CD25</text>
<line x1="69.54" y1="709.2" x2="69.54" y2="713.2" stroke="#000" stroke-width="1" />
<text font-size="10.4" text-anchor="end" fill="#000" stroke="#000" stroke-width="0.1" textLength="30.43" lengthAdjust="spacingAndGlyphs" transform="translate(73.28 717.3) rotate(-90)" >CD127</text>
<line x1="82.58" y1="709.2" x2="82.58" y2="713.2" stroke="#000" stroke-width="1" />
<text font-size="10.4" text-anchor="end" fill="#000" stroke="#000" stroke-width="0.1" textLength="32.05" lengthAdjust="spacingAndGlyphs" transform="translate(86.32 717.3) rotate(-90)" >FOXP3</text>
<line x1="95.62" y1="709.2" x2="95.62" y2="713.2" stroke="#000" stroke-width="1" />
<text font-size="10.4" text-anchor="end" fill="#000" stroke="#000" stroke-width="0.1" textLength="24.99" lengthAdjust="spacingAndGlyphs" transform="translate(99.36 717.3) rotate(-90)" >CD95</text>
<line x1="108.66" y1="709.2" x2="108.66" y2="713.2" stroke="#000" stroke-width="1" />
<text font-size="10.4" text-anchor="end" fill="#000" stroke="#000" stroke-width="0.1" textLength="38.58" lengthAdjust="spacingAndGlyphs" transform="translate(112.4 717.3) rotate(-90)" >CD45RA</text>
<line x1="121.7" y1="709.2" x2="121.7" y2="713.2" stroke="#000" stroke-width="1" />
<text font-size="10.4" text-anchor="end" fill="#000" stroke="#000" stroke-width="0.1" textLength="39.66" lengthAdjust="spacingAndGlyphs" transform="translate(125.44 717.3) rotate(-90)" >CD45RO</text>
<line x1="134.74" y1="709.2" x2="134.74" y2="713.2" stroke="#000" stroke-width="1" />
<text font-size="10.4" text-anchor="end" fill="#000" stroke="#000" stroke-width="0.1" textLength="26.62" lengthAdjust="spacingAndGlyphs" transform="translate(138.48 717.3) rotate(-90)" >CCR4</text>
<line x1="147.78" y1="709.2" x2="147.78" y2="713.2" stroke="#000" stroke-width="1" />
<text font-size="10.4" text-anchor="end" fill="#000" stroke="#000" stroke-width="0.1" textLength="24.99" lengthAdjust="spacingAndGlyphs" transform="translate(151.52 717.3) rotate(-90)" >CD69</text>
<line x1="160.82" y1="709.2" x2="160.82" y2="713.2" stroke="#000" stroke-width="1" />
<text font-size="10.4" text-anchor="end" fill="#000" stroke="#000" stroke-width="0.1" textLength="30.43" lengthAdjust="spacingAndGlyphs" transform="translate(164.56 717.3) rotate(-90)" >CD154</text>
<line x1="173.86" y1="709.2" x2="173.86" y2="713.2" stroke="#000" stroke-width="1" />
<text font-size="10.4" text-anchor="end" fill="#000" stroke="#000" stroke-width="0.1" textLength="24.99" lengthAdjust="spacingAndGlyphs" transform="translate(177.6 717.3) rotate(-90)" >CD27</text>
<line x1="186.9" y1="709.2" x2="186.9" y2="713.2" stroke="#000" stroke-width="1" />
<text font-size="10.4" text-anchor="end" fill="#000" stroke="#000" stroke-width="0.1" textLength="24.99" lengthAdjust="spacingAndGlyphs" transform="translate(190.64 717.3) rotate(-90)" >CD28</text>
<line x1="199.94" y1="709.2" x2="199.94" y2="713.2" stroke="#000" stroke-width="1" />
<text font-size="10.4" text-anchor="end" fill="#000" stroke="#000" stroke-width="0.1" textLength="30.43" lengthAdjust="spacingAndGlyphs" transform="translate(203.68 717.3) rotate(-90)" >CD177</text>
<line x1="212.98" y1="709.2" x2="212.98" y2="713.2" stroke="#000" stroke-width="1" />
<text font-size="10.4" text-anchor="end" fill="#000" stroke="#000" stroke-width="0.1" textLength="30.43" lengthAdjust="spacingAndGlyphs" transform="translate(216.72 717.3) rotate(-90)" >CD62L</text>
<line x1="226.02" y1="709.2" x2="226.02" y2="713.2" stroke="#000" stroke-width="1" />
<text font-size="10.4" text-anchor="end" fill="#000" stroke="#000" stroke-width="0.1" textLength="19.56" lengthAdjust="spacingAndGlyphs" transform="translate(229.76 717.3) rotate(-90)" >CD7</text>
<line x1="239.06" y1="709.2" x2="239.06" y2="713.2" stroke="#000" stroke-width="1" />
<text font-size="10.4" text-anchor="end" fill="#000" stroke="#000" stroke-width="0.1" textLength="24.99" lengthAdjust="spacingAndGlyphs" transform="translate(242.8 717.3) rotate(-90)" >CD38</text>
<line x1="252.1" y1="709.2" x2="252.1" y2="713.2" stroke="#000" stroke-width="1" />
<text font-size="10.4" text-anchor="end" fill="#000" stroke="#000" stroke-width="0.1" textLength="30.43" lengthAdjust="spacingAndGlyphs" transform="translate(255.84 717.3) rotate(-90)" >CD161</text>
<line x1="265.14" y1="709.2" x2="265.14" y2="713.2" stroke="#000" stroke-width="1" />
<text font-size="10.4" text-anchor="end" fill="#000" stroke="#000" stroke-width="0.1" textLength="30.43" lengthAdjust="spacingAndGlyphs" transform="translate(268.88 717.3) rotate(-90)" >CD103</text>
<line x1="278.18" y1="709.2" x2="278.18" y2="713.2" stroke="#000" stroke-width="1" />
<text font-size="10.4" text-anchor="end" fill="#000" stroke="#000" stroke-width="0.1" textLength="19.56" lengthAdjust="spacingAndGlyphs" transform="translate(281.92 717.3) rotate(-90)" >Tbet</text>
<line x1="291.22" y1="709.2" x2="291.22" y2="713.2" stroke="#000" stroke-width="1" />
<text font-size="10.4" text-anchor="end" fill="#000" stroke="#000" stroke-width="0.1" textLength="30.6" lengthAdjust="spacingAndGlyphs" transform="translate(294.96 717.3) rotate(-90)" >GATA3</text>
<line x1="304.26" y1="709.2" x2="304.26" y2="713.2" stroke="#000" stroke-width="1" />
<text font-size="10.4" text-anchor="end" fill="#000" stroke="#000" stroke-width="0.1" textLength="27.17" lengthAdjust="spacingAndGlyphs" transform="translate(308.0 717.3) rotate(-90)" >Helios</text>
<line x1="317.3" y1="709.2" x2="317.3" y2="713.2" stroke="#000" stroke-width="1" />
<text font-size="10.4" text-anchor="end" fill="#000" stroke="#000" stroke-width="0.1" textLength="36.39" lengthAdjust="spacingAndGlyphs" transform="translate(321.04 717.3) rotate(-90)" >HLA-DR</text>
<line x1="330.34" y1="709.2" x2="330.34" y2="713.2" stroke="#000" stroke-width="1" />
<text font-size="10.4" text-anchor="end" fill="#000" stroke="#000" stroke-width="0.1" textLength="26.62" lengthAdjust="spacingAndGlyphs" transform="translate(334.08 717.3) rotate(-90)" >CCR7</text>
<line x1="343.38" y1="709.2" x2="343.38" y2="713.2" stroke="#000" stroke-width="1" />
<text font-size="10.4" text-anchor="end" fill="#000" stroke="#000" stroke-width="0.1" textLength="33.14" lengthAdjust="spacingAndGlyphs" transform="translate(347.12 717.3) rotate(-90)" >CXCR3</text>
<line x1="356.42" y1="709.2" x2="356.42" y2="713.2" stroke="#000" stroke-width="1" />
<text font-size="10.4" text-anchor="end" fill="#000" stroke="#000" stroke-width="0.1" textLength="33.14" lengthAdjust="spacingAndGlyphs" transform="translate(360.16 717.3) rotate(-90)" >CXCR4</text>
<line x1="369.46" y1="709.2" x2="369.46" y2="713.2" stroke="#000" stroke-width="1" />
<text font-size="10.4" text-anchor="end" fill="#000" stroke="#000" stroke-width="0.1" textLength="22.27" lengthAdjust="spacingAndGlyphs" transform="translate(373.2 717.3) rotate(-90)" >PD-1</text>
<line x1="382.5" y1="709.2" x2="382.5" y2="713.2" stroke="#000" stroke-width="1" />
<text font-size="10.4" text-anchor="end" fill="#000" stroke="#000" stroke-width="0.1" textLength="25.52" lengthAdjust="spacingAndGlyphs" transform="translate(386.24 717.3) rotate(-90)" >TIM-3</text>
<line x1="395.54" y1="709.2" x2="395.54" y2="713.2" stroke="#000" stroke-width="1" />
<text font-size="10.4" text-anchor="end" fill="#000" stroke="#000" stroke-width="0.1" textLength="28.25" lengthAdjust="spacingAndGlyphs" transform="translate(399.28 717.3) rotate(-90)" >LAG-3</text>
<line x1="408.58" y1="709.2" x2="408.58" y2="713.2" stroke="#000" stroke-width="1" />
<text font-size="10.4" text-anchor="end" fill="#000" stroke="#000" stroke-width="0.1" textLength="23.9" lengthAdjust="spacingAndGlyphs" transform="translate(412.32 717.3) rotate(-90)" >ICOS</text>
<line x1="421.62" y1="709.2" x2="421.62" y2="713.2" stroke="#000" stroke-width="1" />
<text font-size="10.4" text-anchor="end" fill="#000" stroke="#000" stroke-width="0.1" textLength="30.43" lengthAdjust="spacingAndGlyphs" transform="translate(425.36 717.3) rotate(-90)" >CTLA4</text>
<line x1="56.5" y1="611.88" x2="56.5" y2="605.0" stroke="#1f4788" stroke-width="1.1" />
<line x1="54.2" y1="611.88" x2="58.8" y2="611.88" stroke="#1f4788" stroke-width="1.1" />
<line x1="54.2" y1="605.0" x2="58.8" y2="605.0" stroke="#1f4788" stroke-width="1.1" />
<line x1="82.58" y1="633.51" x2="82.58" y2="626.63" stroke="#1f4788" stroke-width="1.1" />
<line x1="80.28" y1="633.51" x2="84.88" y2="633.51" stroke="#1f4788" stroke-width="1.1" />
<line x1="80.28" y1="626.63" x2="84.88" y2="626.63" stroke="#1f4788" stroke-width="1.1" />
<line x1="108.66" y1="705.27" x2="108.66" y2="699.37" stroke="#1f4788" stroke-width="1.1" />
<line x1="106.36" y1="705.27" x2="110.96" y2="705.27" stroke="#1f4788" stroke-width="1.1" />
<line x1="106.36" y1="699.37" x2="110.96" y2="699.37" stroke="#1f4788" stroke-width="1.1" />
<line x1="121.7" y1="665.95" x2="121.7" y2="646.29" stroke="#1f4788" stroke-width="1.1" />
<line x1="119.4" y1="665.95" x2="124.0" y2="665.95" stroke="#1f4788" stroke-width="1.1" />
<line x1="119.4" y1="646.29" x2="124.0" y2="646.29" stroke="#1f4788" stroke-width="1.1" />
<line x1="134.74" y1="651.2" x2="134.74" y2="644.32" stroke="#1f4788" stroke-width="1.1" />
<line x1="132.44" y1="651.2" x2="137.04" y2="651.2" stroke="#1f4788" stroke-width="1.1" />
<line x1="132.44" y1="644.32" x2="137.04" y2="644.32" stroke="#1f4788" stroke-width="1.1" />
<line x1="147.78" y1="671.85" x2="147.78" y2="665.95" stroke="#1f4788" stroke-width="1.1" />
<line x1="145.48" y1="671.85" x2="150.08" y2="671.85" stroke="#1f4788" stroke-width="1.1" />
<line x1="145.48" y1="665.95" x2="150.08" y2="665.95" stroke="#1f4788" stroke-width="1.1" />
<line x1="160.82" y1="703.3" x2="160.82" y2="689.54" stroke="#1f4788" stroke-width="1.1" />
<line x1="158.52" y1="703.3" x2="163.12" y2="703.3" stroke="#1f4788" stroke-width="1.1" />
<line x1="158.52" y1="689.54" x2="163.12" y2="689.54" stroke="#1f4788" stroke-width="1.1" />
<line x1="173.86" y1="658.08" x2="173.86" y2="651.2" stroke="#1f4788" stroke-width="1.1" />
<line x1="171.56" y1="658.08" x2="176.16" y2="658.08" stroke="#1f4788" stroke-width="1.1" />
<line x1="171.56" y1="651.2" x2="176.16" y2="651.2" stroke="#1f4788" stroke-width="1.1" />
<line x1="186.9" y1="663.98" x2="186.9" y2="656.12" stroke="#1f4788" stroke-width="1.1" />
<line x1="184.6" y1="663.98" x2="189.2" y2="663.98" stroke="#1f4788" stroke-width="1.1" />
<line x1="184.6" y1="656.12" x2="189.2" y2="656.12" stroke="#1f4788" stroke-width="1.1" />
<line x1="212.98" y1="686.2" x2="212.98" y2="664.97" stroke="#1f4788" stroke-width="1.1" />
<line x1="210.68" y1="686.2" x2="215.28" y2="686.2" stroke="#1f4788" stroke-width="1.1" />
<line x1="210.68" y1="664.97" x2="215.28" y2="664.97" stroke="#1f4788" stroke-width="1.1" />
<line x1="226.02" y1="644.32" x2="226.02" y2="624.66" stroke="#1f4788" stroke-width="1.1" />
<line x1="223.72" y1="644.32" x2="228.32" y2="644.32" stroke="#1f4788" stroke-width="1.1" />
<line x1="223.72" y1="624.66" x2="228.32" y2="624.66" stroke="#1f4788" stroke-width="1.1" />
<line x1="239.06" y1="624.66" x2="239.06" y2="619.75" stroke="#1f4788" stroke-width="1.1" />
<line x1="236.76" y1="624.66" x2="241.36" y2="624.66" stroke="#1f4788" stroke-width="1.1" />
<line x1="236.76" y1="619.75" x2="241.36" y2="619.75" stroke="#1f4788" stroke-width="1.1" />
<line x1="252.1" y1="703.3" x2="252.1" y2="700.35" stroke="#1f4788" stroke-width="1.1" />
<line x1="249.8" y1="703.3" x2="254.4" y2="703.3" stroke="#1f4788" stroke-width="1.1" />
<line x1="249.8" y1="700.35" x2="254.4" y2="700.35" stroke="#1f4788" stroke-width="1.1" />
<line x1="278.18" y1="699.37" x2="278.18" y2="692.49" stroke="#1f4788" stroke-width="1.1" />
<line x1="275.88" y1="699.37" x2="280.48" y2="699.37" stroke="#1f4788" stroke-width="1.1" />
<line x1="275.88" y1="692.49" x2="280.48" y2="692.49" stroke="#1f4788" stroke-width="1.1" />
<line x1="291.22" y1="651.2" x2="291.22" y2="643.73" stroke="#1f4788" stroke-width="1.1" />
<line x1="288.92" y1="651.2" x2="293.52" y2="651.2" stroke="#1f4788" stroke-width="1.1" />
<line x1="288.92" y1="643.73" x2="293.52" y2="643.73" stroke="#1f4788" stroke-width="1.1" />
<line x1="304.26" y1="662.02" x2="304.26" y2="654.55" stroke="#1f4788" stroke-width="1.1" />
<line x1="301.96" y1="662.02" x2="306.56" y2="662.02" stroke="#1f4788" stroke-width="1.1" />
<line x1="301.96" y1="654.55" x2="306.56" y2="654.55" stroke="#1f4788" stroke-width="1.1" />
<line x1="317.3" y1="664.57" x2="317.3" y2="637.44" stroke="#1f4788" stroke-width="1.1" />
<line x1="315.0" y1="664.57" x2="319.6" y2="664.57" stroke="#1f4788" stroke-width="1.1" />
<line x1="315.0" y1="637.44" x2="319.6" y2="637.44" stroke="#1f4788" stroke-width="1.1" />
<line x1="330.34" y1="689.15" x2="330.34" y2="674.4" stroke="#1f4788" stroke-width="1.1" />
<line x1="328.04" y1="689.15" x2="332.64" y2="689.15" stroke="#1f4788" stroke-width="1.1" />
<line x1="328.04" y1="674.4" x2="332.64" y2="674.4" stroke="#1f4788" stroke-width="1.1" />
<line x1="343.38" y1="689.15" x2="343.38" y2="660.05" stroke="#1f4788" stroke-width="1.1" />
<line x1="341.08" y1="689.15" x2="345.68" y2="689.15" stroke="#1f4788" stroke-width="1.1" />
<line x1="341.08" y1="660.05" x2="345.68" y2="660.05" stroke="#1f4788" stroke-width="1.1" />
<line x1="356.42" y1="668.31" x2="356.42" y2="654.94" stroke="#1f4788" stroke-width="1.1" />
<line x1="354.12" y1="668.31" x2="358.72" y2="668.31" stroke="#1f4788" stroke-width="1.1" />
<line x1="354.12" y1="654.94" x2="358.72" y2="654.94" stroke="#1f4788" stroke-width="1.1" />
<line x1="369.46" y1="699.37" x2="369.46" y2="689.93" stroke="#1f4788" stroke-width="1.1" />
<line x1="367.16" y1="699.37" x2="371.76" y2="699.37" stroke="#1f4788" stroke-width="1.1" />
<line x1="367.16" y1="689.93" x2="371.76" y2="689.93" stroke="#1f4788" stroke-width="1.1" />
<line x1="395.54" y1="708.22" x2="395.54" y2="699.96" stroke="#1f4788" stroke-width="1.1" />
<line x1="393.24" y1="708.22" x2="397.84" y2="708.22" stroke="#1f4788" stroke-width="1.1" />
<line x1="393.24" y1="699.96" x2="397.84" y2="699.96" stroke="#1f4788" stroke-width="1.1" />
<line x1="408.58" y1="682.46" x2="408.58" y2="676.96" stroke="#1f4788" stroke-width="1.1" />
<line x1="406.28" y1="682.46" x2="410.88" y2="682.46" stroke="#1f4788" stroke-width="1.1" />
<line x1="406.28" y1="676.96" x2="410.88" y2="676.96" stroke="#1f4788" stroke-width="1.1" />
<line x1="421.62" y1="658.08" x2="421.62" y2="649.24" stroke="#1f4788" stroke-width="1.1" />
<line x1="419.32" y1="658.08" x2="423.92" y2="658.08" stroke="#1f4788" stroke-width="1.1" />
<line x1="419.32" y1="649.24" x2="423.92" y2="649.24" stroke="#1f4788" stroke-width="1.1" />
<polyline fill="none" stroke="#1f4788" stroke-width="1" points="56.50,607.95 69.54,707.23 82.58,629.97 95.62,651.20 108.66,702.32 121.70,656.12 134.74,647.47 147.78,668.90 160.82,696.22 173.86,654.55 186.90,659.46 199.94,709.20 212.98,674.99 226.02,634.49 239.06,621.71 252.10,701.93 265.14,708.61 278.18,696.22 291.22,647.07 304.26,657.49 317.30,651.20 330.34,681.87 343.38,674.99 356.42,661.82 369.46,694.46 382.50,708.81 395.54,704.29 408.58,679.91 421.62,653.17"/>
<circle cx="56.50" cy="607.95" r="2.35" fill="#1f4788"/>
<circle cx="69.54" cy="707.23" r="2.35" fill="#1f4788"/>
<circle cx="82.58" cy="629.97" r="2.35" fill="#1f4788"/>
<circle cx="95.62" cy="651.20" r="2.35" fill="#1f4788"/>
<circle cx="108.66" cy="702.32" r="2.35" fill="#1f4788"/>
<circle cx="121.70" cy="656.12" r="2.35" fill="#1f4788"/>
<circle cx="134.74" cy="647.47" r="2.35" fill="#1f4788"/>
<circle cx="147.78" cy="668.90" r="2.35" fill="#1f4788"/>
<circle cx="160.82" cy="696.22" r="2.35" fill="#1f4788"/>
<circle cx="173.86" cy="654.55" r="2.35" fill="#1f4788"/>
<circle cx="186.90" cy="659.46" r="2.35" fill="#1f4788"/>
<circle cx="199.94" cy="709.20" r="2.35" fill="#1f4788"/>
<circle cx="212.98" cy="674.99" r="2.35" fill="#1f4788"/>
<circle cx="226.02" cy="634.49" r="2.35" fill="#1f4788"/>
<circle cx="239.06" cy="621.71" r="2.35" fill="#1f4788"/>
<circle cx="252.10" cy="701.93" r="2.35" fill="#1f4788"/>
<circle cx="265.14" cy="708.61" r="2.35" fill="#1f4788"/>
<circle cx="278.18" cy="696.22" r="2.35" fill="#1f4788"/>
<circle cx="291.22" cy="647.07" r="2.35" fill="#1f4788"/>
<circle cx="304.26" cy="657.49" r="2.35" fill="#1f4788"/>
<circle cx="317.30" cy="651.20" r="2.35" fill="#1f4788"/>
<circle cx="330.34" cy="681.87" r="2.35" fill="#1f4788"/>
<circle cx="343.38" cy="674.99" r="2.35" fill="#1f4788"/>
<circle cx="356.42" cy="661.82" r="2.35" fill="#1f4788"/>
<circle cx="369.46" cy="694.46" r="2.35" fill="#1f4788"/>
<circle cx="382.50" cy="708.81" r="2.35" fill="#1f4788"/>
<circle cx="395.54" cy="704.29" r="2.35" fill="#1f4788"/>
<circle cx="408.58" cy="679.91" r="2.35" fill="#1f4788"/>
<circle cx="421.62" cy="653.17" r="2.35" fill="#1f4788"/>
<line x1="56.5" y1="622.7" x2="56.5" y2="609.92" stroke="#b30030" stroke-width="1.1" />
<line x1="54.2" y1="622.7" x2="58.8" y2="622.7" stroke="#b30030" stroke-width="1.1" />
<line x1="54.2" y1="609.92" x2="58.8" y2="609.92" stroke="#b30030" stroke-width="1.1" />
<line x1="82.58" y1="633.71" x2="82.58" y2="619.35" stroke="#b30030" stroke-width="1.1" />
<line x1="80.28" y1="633.71" x2="84.88" y2="633.71" stroke="#b30030" stroke-width="1.1" />
<line x1="80.28" y1="619.35" x2="84.88" y2="619.35" stroke="#b30030" stroke-width="1.1" />
<line x1="95.62" y1="640.39" x2="95.62" y2="637.24" stroke="#b30030" stroke-width="1.1" />
<line x1="93.32" y1="640.39" x2="97.92" y2="640.39" stroke="#b30030" stroke-width="1.1" />
<line x1="93.32" y1="637.24" x2="97.92" y2="637.24" stroke="#b30030" stroke-width="1.1" />
<line x1="108.66" y1="707.23" x2="108.66" y2="703.3" stroke="#b30030" stroke-width="1.1" />
<line x1="106.36" y1="707.23" x2="110.96" y2="707.23" stroke="#b30030" stroke-width="1.1" />
<line x1="106.36" y1="703.3" x2="110.96" y2="703.3" stroke="#b30030" stroke-width="1.1" />
<line x1="121.7" y1="669.88" x2="121.7" y2="650.22" stroke="#b30030" stroke-width="1.1" />
<line x1="119.4" y1="669.88" x2="124.0" y2="669.88" stroke="#b30030" stroke-width="1.1" />
<line x1="119.4" y1="650.22" x2="124.0" y2="650.22" stroke="#b30030" stroke-width="1.1" />
<line x1="134.74" y1="651.2" x2="134.74" y2="634.49" stroke="#b30030" stroke-width="1.1" />
<line x1="132.44" y1="651.2" x2="137.04" y2="651.2" stroke="#b30030" stroke-width="1.1" />
<line x1="132.44" y1="634.49" x2="137.04" y2="634.49" stroke="#b30030" stroke-width="1.1" />
<line x1="147.78" y1="674.4" x2="147.78" y2="666.34" stroke="#b30030" stroke-width="1.1" />
<line x1="145.48" y1="674.4" x2="150.08" y2="674.4" stroke="#b30030" stroke-width="1.1" />
<line x1="145.48" y1="666.34" x2="150.08" y2="666.34" stroke="#b30030" stroke-width="1.1" />
<line x1="160.82" y1="700.35" x2="160.82" y2="689.54" stroke="#b30030" stroke-width="1.1" />
<line x1="158.52" y1="700.35" x2="163.12" y2="700.35" stroke="#b30030" stroke-width="1.1" />
<line x1="158.52" y1="689.54" x2="163.12" y2="689.54" stroke="#b30030" stroke-width="1.1" />
<line x1="173.86" y1="666.93" x2="173.86" y2="663.98" stroke="#b30030" stroke-width="1.1" />
<line x1="171.56" y1="666.93" x2="176.16" y2="666.93" stroke="#b30030" stroke-width="1.1" />
<line x1="171.56" y1="663.98" x2="176.16" y2="663.98" stroke="#b30030" stroke-width="1.1" />
<line x1="186.9" y1="682.07" x2="186.9" y2="645.89" stroke="#b30030" stroke-width="1.1" />
<line x1="184.6" y1="682.07" x2="189.2" y2="682.07" stroke="#b30030" stroke-width="1.1" />
<line x1="184.6" y1="645.89" x2="189.2" y2="645.89" stroke="#b30030" stroke-width="1.1" />
<line x1="212.98" y1="673.03" x2="212.98" y2="663.79" stroke="#b30030" stroke-width="1.1" />
<line x1="210.68" y1="673.03" x2="215.28" y2="673.03" stroke="#b30030" stroke-width="1.1" />
<line x1="210.68" y1="663.79" x2="215.28" y2="663.79" stroke="#b30030" stroke-width="1.1" />
<line x1="226.02" y1="641.18" x2="226.02" y2="626.23" stroke="#b30030" stroke-width="1.1" />
<line x1="223.72" y1="641.18" x2="228.32" y2="641.18" stroke="#b30030" stroke-width="1.1" />
<line x1="223.72" y1="626.23" x2="228.32" y2="626.23" stroke="#b30030" stroke-width="1.1" />
<line x1="239.06" y1="632.92" x2="239.06" y2="619.94" stroke="#b30030" stroke-width="1.1" />
<line x1="236.76" y1="632.92" x2="241.36" y2="632.92" stroke="#b30030" stroke-width="1.1" />
<line x1="236.76" y1="619.94" x2="241.36" y2="619.94" stroke="#b30030" stroke-width="1.1" />
<line x1="252.1" y1="702.32" x2="252.1" y2="698.39" stroke="#b30030" stroke-width="1.1" />
<line x1="249.8" y1="702.32" x2="254.4" y2="702.32" stroke="#b30030" stroke-width="1.1" />
<line x1="249.8" y1="698.39" x2="254.4" y2="698.39" stroke="#b30030" stroke-width="1.1" />
<line x1="278.18" y1="697.4" x2="278.18" y2="686.79" stroke="#b30030" stroke-width="1.1" />
<line x1="275.88" y1="697.4" x2="280.48" y2="697.4" stroke="#b30030" stroke-width="1.1" />
<line x1="275.88" y1="686.79" x2="280.48" y2="686.79" stroke="#b30030" stroke-width="1.1" />
<line x1="291.22" y1="642.95" x2="291.22" y2="636.85" stroke="#b30030" stroke-width="1.1" />
<line x1="288.92" y1="642.95" x2="293.52" y2="642.95" stroke="#b30030" stroke-width="1.1" />
<line x1="288.92" y1="636.85" x2="293.52" y2="636.85" stroke="#b30030" stroke-width="1.1" />
<line x1="304.26" y1="657.49" x2="304.26" y2="650.61" stroke="#b30030" stroke-width="1.1" />
<line x1="301.96" y1="657.49" x2="306.56" y2="657.49" stroke="#b30030" stroke-width="1.1" />
<line x1="301.96" y1="650.61" x2="306.56" y2="650.61" stroke="#b30030" stroke-width="1.1" />
<line x1="317.3" y1="662.41" x2="317.3" y2="629.58" stroke="#b30030" stroke-width="1.1" />
<line x1="315.0" y1="662.41" x2="319.6" y2="662.41" stroke="#b30030" stroke-width="1.1" />
<line x1="315.0" y1="629.58" x2="319.6" y2="629.58" stroke="#b30030" stroke-width="1.1" />
<line x1="330.34" y1="698.39" x2="330.34" y2="694.46" stroke="#b30030" stroke-width="1.1" />
<line x1="328.04" y1="698.39" x2="332.64" y2="698.39" stroke="#b30030" stroke-width="1.1" />
<line x1="328.04" y1="694.46" x2="332.64" y2="694.46" stroke="#b30030" stroke-width="1.1" />
<line x1="343.38" y1="686.2" x2="343.38" y2="667.52" stroke="#b30030" stroke-width="1.1" />
<line x1="341.08" y1="686.2" x2="345.68" y2="686.2" stroke="#b30030" stroke-width="1.1" />
<line x1="341.08" y1="667.52" x2="345.68" y2="667.52" stroke="#b30030" stroke-width="1.1" />
<line x1="356.42" y1="679.91" x2="356.42" y2="667.91" stroke="#b30030" stroke-width="1.1" />
<line x1="354.12" y1="679.91" x2="358.72" y2="679.91" stroke="#b30030" stroke-width="1.1" />
<line x1="354.12" y1="667.91" x2="358.72" y2="667.91" stroke="#b30030" stroke-width="1.1" />
<line x1="369.46" y1="695.04" x2="369.46" y2="675.78" stroke="#b30030" stroke-width="1.1" />
<line x1="367.16" y1="695.04" x2="371.76" y2="695.04" stroke="#b30030" stroke-width="1.1" />
<line x1="367.16" y1="675.78" x2="371.76" y2="675.78" stroke="#b30030" stroke-width="1.1" />
<line x1="395.54" y1="703.3" x2="395.54" y2="698.39" stroke="#b30030" stroke-width="1.1" />
<line x1="393.24" y1="703.3" x2="397.84" y2="703.3" stroke="#b30030" stroke-width="1.1" />
<line x1="393.24" y1="698.39" x2="397.84" y2="698.39" stroke="#b30030" stroke-width="1.1" />
<line x1="408.58" y1="676.76" x2="408.58" y2="667.91" stroke="#b30030" stroke-width="1.1" />
<line x1="406.28" y1="676.76" x2="410.88" y2="676.76" stroke="#b30030" stroke-width="1.1" />
<line x1="406.28" y1="667.91" x2="410.88" y2="667.91" stroke="#b30030" stroke-width="1.1" />
<line x1="421.62" y1="652.58" x2="421.62" y2="640.39" stroke="#b30030" stroke-width="1.1" />
<line x1="419.32" y1="652.58" x2="423.92" y2="652.58" stroke="#b30030" stroke-width="1.1" />
<line x1="419.32" y1="640.39" x2="423.92" y2="640.39" stroke="#b30030" stroke-width="1.1" />
<polyline fill="none" stroke="#b30030" stroke-width="1" points="56.50,614.24 69.54,707.23 82.58,626.63 95.62,638.82 108.66,705.27 121.70,660.05 134.74,643.73 147.78,669.49 160.82,695.04 173.86,665.75 186.90,663.79 199.94,709.20 212.98,669.88 226.02,633.71 239.06,626.23 252.10,700.55 265.14,708.61 278.18,692.88 291.22,640.00 304.26,654.15 317.30,645.70 330.34,696.62 343.38,676.76 356.42,673.81 369.46,685.41 382.50,708.81 395.54,700.55 408.58,672.44 421.62,646.68"/>
<rect x="54.05" y="611.79" width="4.9" height="4.9" fill="#b30030"/>
<rect x="67.09" y="704.78" width="4.9" height="4.9" fill="#b30030"/>
<rect x="80.13" y="624.18" width="4.9" height="4.9" fill="#b30030"/>
<rect x="93.17" y="636.37" width="4.9" height="4.9" fill="#b30030"/>
<rect x="106.21" y="702.82" width="4.9" height="4.9" fill="#b30030"/>
<rect x="119.25" y="657.60" width="4.9" height="4.9" fill="#b30030"/>
<rect x="132.29" y="641.28" width="4.9" height="4.9" fill="#b30030"/>
<rect x="145.33" y="667.04" width="4.9" height="4.9" fill="#b30030"/>
<rect x="158.37" y="692.59" width="4.9" height="4.9" fill="#b30030"/>
<rect x="171.41" y="663.30" width="4.9" height="4.9" fill="#b30030"/>
<rect x="184.45" y="661.34" width="4.9" height="4.9" fill="#b30030"/>
<rect x="197.49" y="706.75" width="4.9" height="4.9" fill="#b30030"/>
<rect x="210.53" y="667.43" width="4.9" height="4.9" fill="#b30030"/>
<rect x="223.57" y="631.26" width="4.9" height="4.9" fill="#b30030"/>
<rect x="236.61" y="623.78" width="4.9" height="4.9" fill="#b30030"/>
<rect x="249.65" y="698.10" width="4.9" height="4.9" fill="#b30030"/>
<rect x="262.69" y="706.16" width="4.9" height="4.9" fill="#b30030"/>
<rect x="275.73" y="690.43" width="4.9" height="4.9" fill="#b30030"/>
<rect x="288.77" y="637.55" width="4.9" height="4.9" fill="#b30030"/>
<rect x="301.81" y="651.70" width="4.9" height="4.9" fill="#b30030"/>
<rect x="314.85" y="643.25" width="4.9" height="4.9" fill="#b30030"/>
<rect x="327.89" y="694.17" width="4.9" height="4.9" fill="#b30030"/>
<rect x="340.93" y="674.31" width="4.9" height="4.9" fill="#b30030"/>
<rect x="353.97" y="671.36" width="4.9" height="4.9" fill="#b30030"/>
<rect x="367.01" y="682.96" width="4.9" height="4.9" fill="#b30030"/>
<rect x="380.05" y="706.36" width="4.9" height="4.9" fill="#b30030"/>
<rect x="393.09" y="698.10" width="4.9" height="4.9" fill="#b30030"/>
<rect x="406.13" y="669.99" width="4.9" height="4.9" fill="#b30030"/>
<rect x="419.17" y="644.23" width="4.9" height="4.9" fill="#b30030"/>
<line x1="337.5" y1="594.5" x2="349.5" y2="594.5" stroke="#1f4788" stroke-width="1.1" />
<circle cx="343.5" cy="594.5" r="2.35" fill="#1f4788"/>
<line x1="337.5" y1="608.2" x2="349.5" y2="608.2" stroke="#b30030" stroke-width="1.1" />
<rect x="341.05" y="605.75" width="4.9" height="4.9" fill="#b30030"/>
<text x="353.8" y="598.1" font-size="10" text-anchor="start" fill="#111" stroke="#111" stroke-width="0.1" textLength="72" lengthAdjust="spacingAndGlyphs" >Expanded Treg A</text>
<text x="353.8" y="611.8" font-size="10" text-anchor="start" fill="#111" stroke="#111" stroke-width="0.1" textLength="71.5" lengthAdjust="spacingAndGlyphs" >Expanded Treg B</text>
<text font-size="12.5" text-anchor="middle" fill="#111" stroke="#111" stroke-width="0.1" textLength="78" lengthAdjust="spacingAndGlyphs" transform="translate(28.5 648) rotate(-90)" >Median expression</text>
<rect x="0" y="0" width="520" height="1.3" fill="#000" />
<rect x="0" y="0" width="1.15" height="765" fill="#000" />
<rect x="518.6" y="0" width="1.4" height="765" fill="#000" />
<rect x="0" y="763.5" width="520" height="1.5" fill="#000" />
</svg>
</body>
</html>
